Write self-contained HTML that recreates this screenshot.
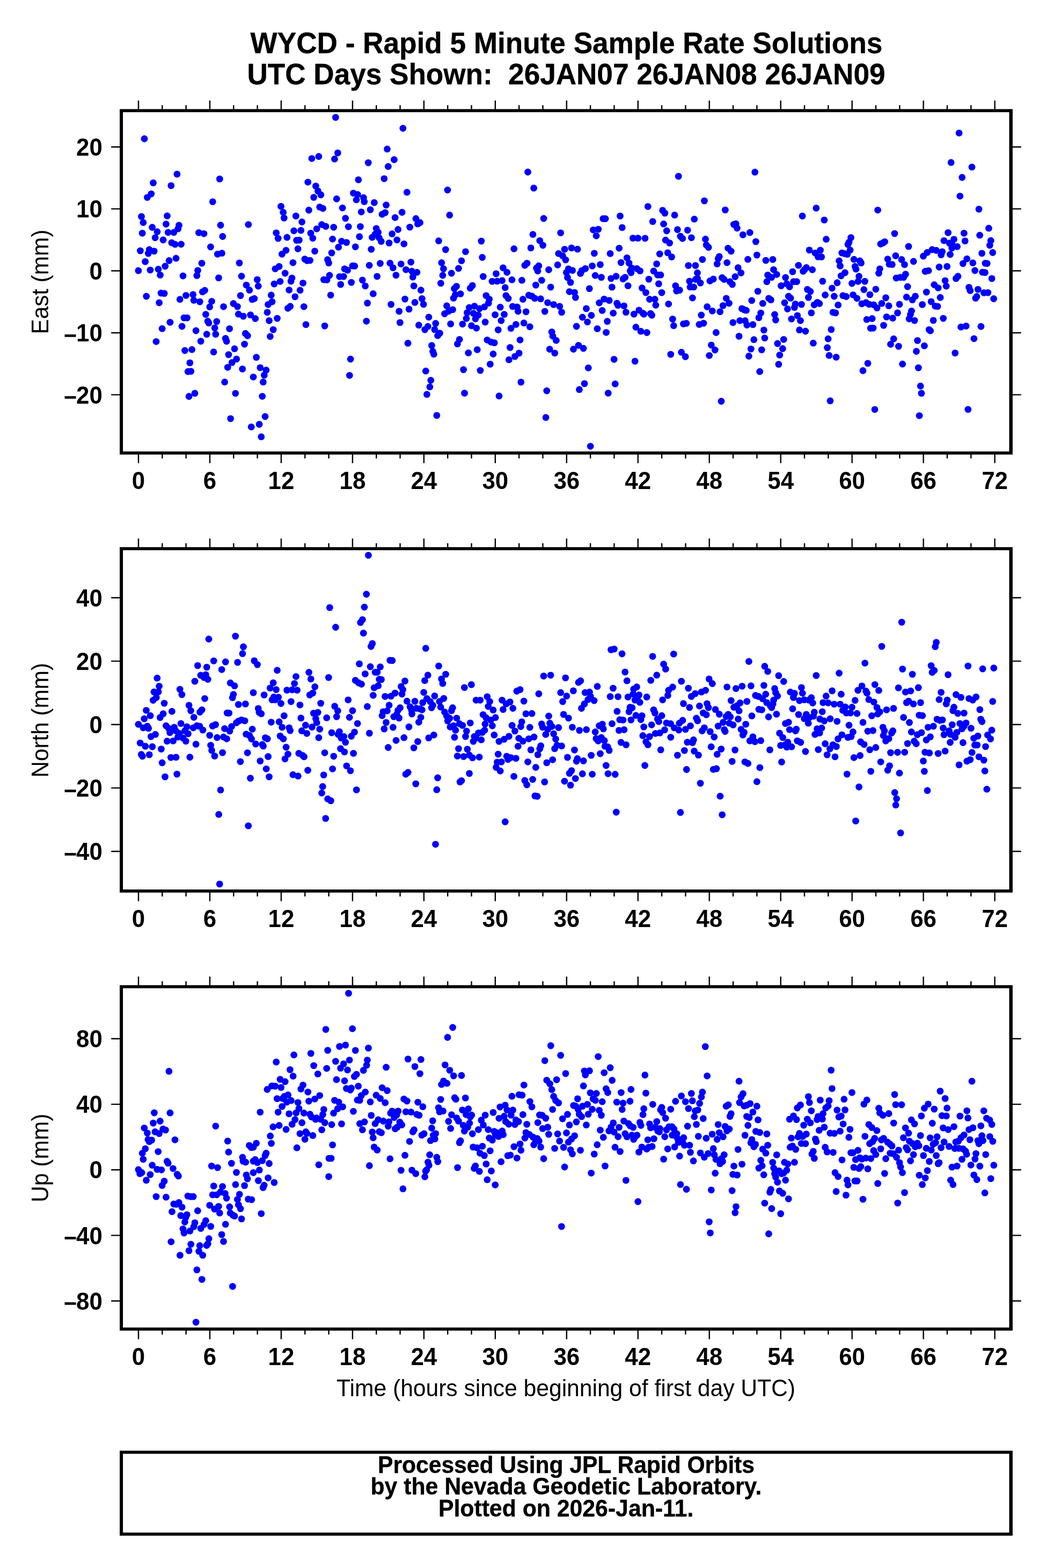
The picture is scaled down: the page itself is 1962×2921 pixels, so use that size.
<!DOCTYPE html>
<html lang="en"><head><meta charset="utf-8"><title>WYCD - Rapid 5 Minute Sample Rate Solutions</title>
<style>html,body{margin:0;padding:0;background:#fff}body{width:1962px;height:2921px;overflow:hidden}svg{display:block}text{font-family:"Liberation Sans",Arial,Helvetica,sans-serif;fill:#000;white-space:pre}.b{font-weight:bold}.s{stroke:#000;stroke-width:0.4px;stroke-linejoin:round}.f{fill:none;stroke:#000;stroke-width:5.90;stroke-linejoin:miter}.t{stroke:#000;stroke-width:2.40;fill:none}.fr{fill:#000;fill-rule:evenodd}.d{fill:#0000ff}</style></head><body>
<svg width="1962" height="2921" viewBox="0 0 1962 2921">
<rect width="1962" height="2921" fill="#fff"/>
<text class="b s" transform="translate(466.61 98.90) scale(0.9661 1)" font-size="55.00">WYCD - Rapid 5 Minute Sample Rate Solutions</text>
<text class="b s" transform="translate(460.50 156.80) scale(0.9652 1)" font-size="55.00">UTC Days Shown:  26JAN07 26JAN08 26JAN09</text>
<g id="panel1">
<g class="d">
<circle cx="1264.2" cy="328.4" r="6.4"/>
<circle cx="1312.4" cy="374.1" r="6.4"/>
<circle cx="1207.2" cy="384.6" r="6.4"/>
<circle cx="1234.6" cy="391.9" r="6.4"/>
<circle cx="1238.8" cy="397.1" r="6.4"/>
<circle cx="1257.0" cy="400.7" r="6.4"/>
<circle cx="1155.4" cy="402.4" r="6.4"/>
<circle cx="1123.8" cy="407.4" r="6.4"/>
<circle cx="1128.0" cy="407.4" r="6.4"/>
<circle cx="1293.7" cy="408.2" r="6.4"/>
<circle cx="1216.2" cy="412.6" r="6.4"/>
<circle cx="1236.5" cy="417.2" r="6.4"/>
<circle cx="1159.2" cy="423.9" r="6.4"/>
<circle cx="1114.8" cy="427.1" r="6.4"/>
<circle cx="1105.4" cy="428.3" r="6.4"/>
<circle cx="1262.3" cy="427.7" r="6.4"/>
<circle cx="1281.1" cy="428.8" r="6.4"/>
<circle cx="1242.2" cy="430.0" r="6.4"/>
<circle cx="1111.0" cy="439.3" r="6.4"/>
<circle cx="1267.7" cy="440.1" r="6.4"/>
<circle cx="1271.7" cy="444.3" r="6.4"/>
<circle cx="1288.3" cy="442.8" r="6.4"/>
<circle cx="1179.3" cy="443.6" r="6.4"/>
<circle cx="1188.7" cy="443.6" r="6.4"/>
<circle cx="1201.9" cy="443.9" r="6.4"/>
<circle cx="1314.4" cy="445.5" r="6.4"/>
<circle cx="1240.1" cy="447.2" r="6.4"/>
<circle cx="1247.6" cy="452.6" r="6.4"/>
<circle cx="1316.1" cy="456.4" r="6.4"/>
<circle cx="1320.1" cy="460.8" r="6.4"/>
<circle cx="1064.9" cy="461.9" r="6.4"/>
<circle cx="1076.0" cy="464.2" r="6.4"/>
<circle cx="1153.6" cy="462.3" r="6.4"/>
<circle cx="1107.3" cy="471.9" r="6.4"/>
<circle cx="1137.0" cy="472.4" r="6.4"/>
<circle cx="1229.2" cy="473.0" r="6.4"/>
<circle cx="1244.1" cy="470.9" r="6.4"/>
<circle cx="1251.4" cy="478.6" r="6.4"/>
<circle cx="1168.2" cy="480.3" r="6.4"/>
<circle cx="1308.8" cy="483.4" r="6.4"/>
<circle cx="1157.1" cy="489.1" r="6.4"/>
<circle cx="1172.0" cy="490.1" r="6.4"/>
<circle cx="1223.5" cy="491.6" r="6.4"/>
<circle cx="1118.4" cy="492.9" r="6.4"/>
<circle cx="1103.5" cy="495.4" r="6.4"/>
<circle cx="1282.6" cy="494.6" r="6.4"/>
<circle cx="1295.8" cy="494.6" r="6.4"/>
<circle cx="1059.1" cy="500.8" r="6.4"/>
<circle cx="1066.6" cy="503.8" r="6.4"/>
<circle cx="1090.7" cy="500.4" r="6.4"/>
<circle cx="1084.0" cy="504.2" r="6.4"/>
<circle cx="1081.5" cy="509.4" r="6.4"/>
<circle cx="1055.3" cy="507.7" r="6.4"/>
<circle cx="1177.0" cy="499.4" r="6.4"/>
<circle cx="1186.6" cy="500.4" r="6.4"/>
<circle cx="1192.5" cy="504.6" r="6.4"/>
<circle cx="1174.3" cy="504.6" r="6.4"/>
<circle cx="1175.8" cy="508.0" r="6.4"/>
<circle cx="1217.9" cy="505.0" r="6.4"/>
<circle cx="1225.4" cy="512.2" r="6.4"/>
<circle cx="1230.9" cy="512.2" r="6.4"/>
<circle cx="1299.4" cy="508.2" r="6.4"/>
<circle cx="1109.1" cy="513.2" r="6.4"/>
<circle cx="1120.4" cy="516.6" r="6.4"/>
<circle cx="1147.9" cy="514.7" r="6.4"/>
<circle cx="1138.5" cy="518.8" r="6.4"/>
<circle cx="1164.7" cy="516.6" r="6.4"/>
<circle cx="1160.9" cy="519.7" r="6.4"/>
<circle cx="1057.4" cy="517.0" r="6.4"/>
<circle cx="1208.9" cy="520.1" r="6.4"/>
<circle cx="1299.6" cy="518.6" r="6.4"/>
<circle cx="1296.0" cy="520.5" r="6.4"/>
<circle cx="1284.7" cy="523.9" r="6.4"/>
<circle cx="1322.8" cy="523.3" r="6.4"/>
<circle cx="1063.0" cy="526.1" r="6.4"/>
<circle cx="1140.3" cy="534.9" r="6.4"/>
<circle cx="1170.1" cy="532.4" r="6.4"/>
<circle cx="1227.3" cy="528.6" r="6.4"/>
<circle cx="1258.7" cy="532.4" r="6.4"/>
<circle cx="1305.0" cy="527.1" r="6.4"/>
<circle cx="1285.9" cy="534.7" r="6.4"/>
<circle cx="1292.6" cy="534.7" r="6.4"/>
<circle cx="1098.2" cy="537.6" r="6.4"/>
<circle cx="1196.3" cy="536.5" r="6.4"/>
<circle cx="1061.0" cy="543.3" r="6.4"/>
<circle cx="1070.6" cy="544.9" r="6.4"/>
<circle cx="1072.3" cy="554.1" r="6.4"/>
<circle cx="1203.4" cy="545.1" r="6.4"/>
<circle cx="1233.0" cy="545.1" r="6.4"/>
<circle cx="1260.6" cy="542.0" r="6.4"/>
<circle cx="1266.3" cy="540.5" r="6.4"/>
<circle cx="1290.3" cy="555.0" r="6.4"/>
<circle cx="1125.7" cy="557.1" r="6.4"/>
<circle cx="1135.1" cy="559.6" r="6.4"/>
<circle cx="1116.5" cy="564.2" r="6.4"/>
<circle cx="1210.3" cy="557.5" r="6.4"/>
<circle cx="1220.2" cy="557.5" r="6.4"/>
<circle cx="1221.8" cy="568.4" r="6.4"/>
<circle cx="1149.6" cy="565.0" r="6.4"/>
<circle cx="1151.4" cy="568.8" r="6.4"/>
<circle cx="1162.6" cy="569.9" r="6.4"/>
<circle cx="1245.7" cy="566.3" r="6.4"/>
<circle cx="1317.6" cy="571.5" r="6.4"/>
<circle cx="1092.4" cy="574.9" r="6.4"/>
<circle cx="1122.1" cy="578.4" r="6.4"/>
<circle cx="1190.6" cy="577.8" r="6.4"/>
<circle cx="1166.3" cy="581.6" r="6.4"/>
<circle cx="1142.6" cy="583.3" r="6.4"/>
<circle cx="1181.2" cy="585.2" r="6.4"/>
<circle cx="1197.8" cy="583.5" r="6.4"/>
<circle cx="1199.8" cy="585.1" r="6.4"/>
<circle cx="1212.2" cy="584.1" r="6.4"/>
<circle cx="1214.5" cy="587.3" r="6.4"/>
<circle cx="1101.8" cy="587.5" r="6.4"/>
<circle cx="1085.2" cy="591.0" r="6.4"/>
<circle cx="1306.7" cy="587.0" r="6.4"/>
<circle cx="1253.3" cy="594.4" r="6.4"/>
<circle cx="1094.5" cy="599.8" r="6.4"/>
<circle cx="1131.5" cy="598.6" r="6.4"/>
<circle cx="1273.4" cy="603.4" r="6.4"/>
<circle cx="1278.8" cy="602.3" r="6.4"/>
<circle cx="1310.9" cy="602.1" r="6.4"/>
<circle cx="1302.9" cy="604.4" r="6.4"/>
<circle cx="1255.2" cy="606.7" r="6.4"/>
<circle cx="1074.1" cy="608.0" r="6.4"/>
<circle cx="1184.8" cy="609.5" r="6.4"/>
<circle cx="1112.9" cy="612.4" r="6.4"/>
<circle cx="1194.0" cy="617.2" r="6.4"/>
<circle cx="1205.3" cy="619.5" r="6.4"/>
<circle cx="1129.5" cy="619.3" r="6.4"/>
<circle cx="1077.9" cy="643.4" r="6.4"/>
<circle cx="1068.5" cy="650.5" r="6.4"/>
<circle cx="1087.1" cy="649.0" r="6.4"/>
<circle cx="1269.6" cy="656.2" r="6.4"/>
<circle cx="1249.7" cy="660.1" r="6.4"/>
<circle cx="1277.1" cy="664.5" r="6.4"/>
<circle cx="1321.6" cy="662.3" r="6.4"/>
<circle cx="1144.1" cy="669.4" r="6.4"/>
<circle cx="1183.1" cy="672.9" r="6.4"/>
<circle cx="1096.2" cy="685.3" r="6.4"/>
<circle cx="1089.0" cy="714.6" r="6.4"/>
<circle cx="1146.2" cy="715.2" r="6.4"/>
<circle cx="1079.4" cy="725.7" r="6.4"/>
<circle cx="1133.2" cy="732.4" r="6.4"/>
<circle cx="1100.1" cy="831.3" r="6.4"/>
<circle cx="1406.6" cy="320.7" r="6.4"/>
<circle cx="1351.3" cy="391.1" r="6.4"/>
<circle cx="1520.8" cy="387.7" r="6.4"/>
<circle cx="1495.0" cy="402.4" r="6.4"/>
<circle cx="1535.8" cy="409.9" r="6.4"/>
<circle cx="1371.2" cy="417.0" r="6.4"/>
<circle cx="1367.2" cy="418.1" r="6.4"/>
<circle cx="1373.3" cy="425.0" r="6.4"/>
<circle cx="1397.2" cy="433.2" r="6.4"/>
<circle cx="1384.2" cy="437.4" r="6.4"/>
<circle cx="1585.5" cy="442.6" r="6.4"/>
<circle cx="1539.4" cy="445.7" r="6.4"/>
<circle cx="1408.3" cy="450.1" r="6.4"/>
<circle cx="1581.9" cy="451.2" r="6.4"/>
<circle cx="1580.0" cy="455.4" r="6.4"/>
<circle cx="1356.5" cy="462.3" r="6.4"/>
<circle cx="1362.2" cy="468.0" r="6.4"/>
<circle cx="1508.0" cy="465.9" r="6.4"/>
<circle cx="1528.5" cy="466.1" r="6.4"/>
<circle cx="1584.0" cy="465.8" r="6.4"/>
<circle cx="1518.9" cy="471.3" r="6.4"/>
<circle cx="1568.7" cy="471.1" r="6.4"/>
<circle cx="1574.4" cy="472.6" r="6.4"/>
<circle cx="1578.8" cy="473.6" r="6.4"/>
<circle cx="1410.3" cy="475.1" r="6.4"/>
<circle cx="1340.2" cy="477.8" r="6.4"/>
<circle cx="1338.1" cy="481.8" r="6.4"/>
<circle cx="1524.3" cy="478.4" r="6.4"/>
<circle cx="1530.6" cy="478.6" r="6.4"/>
<circle cx="1393.4" cy="483.2" r="6.4"/>
<circle cx="1426.9" cy="485.1" r="6.4"/>
<circle cx="1439.9" cy="483.4" r="6.4"/>
<circle cx="1591.1" cy="483.2" r="6.4"/>
<circle cx="1563.5" cy="486.0" r="6.4"/>
<circle cx="1336.2" cy="491.6" r="6.4"/>
<circle cx="1354.6" cy="489.3" r="6.4"/>
<circle cx="1487.7" cy="494.3" r="6.4"/>
<circle cx="1565.4" cy="495.4" r="6.4"/>
<circle cx="1593.2" cy="496.4" r="6.4"/>
<circle cx="1375.2" cy="498.7" r="6.4"/>
<circle cx="1502.5" cy="498.5" r="6.4"/>
<circle cx="1499.0" cy="502.3" r="6.4"/>
<circle cx="1496.5" cy="505.4" r="6.4"/>
<circle cx="1513.6" cy="502.5" r="6.4"/>
<circle cx="1441.4" cy="502.3" r="6.4"/>
<circle cx="1594.9" cy="501.3" r="6.4"/>
<circle cx="1476.8" cy="506.1" r="6.4"/>
<circle cx="1380.6" cy="508.4" r="6.4"/>
<circle cx="1574.4" cy="508.0" r="6.4"/>
<circle cx="1430.5" cy="512.4" r="6.4"/>
<circle cx="1447.2" cy="511.3" r="6.4"/>
<circle cx="1567.1" cy="513.8" r="6.4"/>
<circle cx="1369.7" cy="515.5" r="6.4"/>
<circle cx="1437.6" cy="516.6" r="6.4"/>
<circle cx="1463.6" cy="517.0" r="6.4"/>
<circle cx="1345.4" cy="517.2" r="6.4"/>
<circle cx="1349.2" cy="520.5" r="6.4"/>
<circle cx="1329.1" cy="519.9" r="6.4"/>
<circle cx="1532.7" cy="523.9" r="6.4"/>
<circle cx="1428.8" cy="524.7" r="6.4"/>
<circle cx="1360.1" cy="524.7" r="6.4"/>
<circle cx="1478.4" cy="524.7" r="6.4"/>
<circle cx="1484.5" cy="524.7" r="6.4"/>
<circle cx="1364.5" cy="529.9" r="6.4"/>
<circle cx="1455.4" cy="532.4" r="6.4"/>
<circle cx="1465.9" cy="528.6" r="6.4"/>
<circle cx="1471.1" cy="534.3" r="6.4"/>
<circle cx="1559.9" cy="526.7" r="6.4"/>
<circle cx="1587.4" cy="528.0" r="6.4"/>
<circle cx="1550.3" cy="536.8" r="6.4"/>
<circle cx="1412.0" cy="542.6" r="6.4"/>
<circle cx="1504.4" cy="539.1" r="6.4"/>
<circle cx="1509.9" cy="543.0" r="6.4"/>
<circle cx="1506.3" cy="554.1" r="6.4"/>
<circle cx="1537.5" cy="549.5" r="6.4"/>
<circle cx="1554.3" cy="552.0" r="6.4"/>
<circle cx="1570.6" cy="550.6" r="6.4"/>
<circle cx="1576.7" cy="552.5" r="6.4"/>
<circle cx="1589.5" cy="549.3" r="6.4"/>
<circle cx="1469.2" cy="552.0" r="6.4"/>
<circle cx="1473.0" cy="555.4" r="6.4"/>
<circle cx="1353.2" cy="555.8" r="6.4"/>
<circle cx="1432.4" cy="555.8" r="6.4"/>
<circle cx="1436.3" cy="558.6" r="6.4"/>
<circle cx="1400.7" cy="559.8" r="6.4"/>
<circle cx="1358.4" cy="565.0" r="6.4"/>
<circle cx="1421.2" cy="565.2" r="6.4"/>
<circle cx="1461.9" cy="564.0" r="6.4"/>
<circle cx="1482.0" cy="566.3" r="6.4"/>
<circle cx="1493.3" cy="567.1" r="6.4"/>
<circle cx="1522.8" cy="563.4" r="6.4"/>
<circle cx="1526.8" cy="565.5" r="6.4"/>
<circle cx="1517.0" cy="567.8" r="6.4"/>
<circle cx="1561.6" cy="568.2" r="6.4"/>
<circle cx="1347.1" cy="569.4" r="6.4"/>
<circle cx="1480.3" cy="572.6" r="6.4"/>
<circle cx="1467.3" cy="575.5" r="6.4"/>
<circle cx="1327.2" cy="579.3" r="6.4"/>
<circle cx="1341.6" cy="580.7" r="6.4"/>
<circle cx="1382.3" cy="574.9" r="6.4"/>
<circle cx="1386.5" cy="577.0" r="6.4"/>
<circle cx="1390.4" cy="578.2" r="6.4"/>
<circle cx="1417.5" cy="583.1" r="6.4"/>
<circle cx="1413.9" cy="591.9" r="6.4"/>
<circle cx="1443.4" cy="586.0" r="6.4"/>
<circle cx="1445.3" cy="596.0" r="6.4"/>
<circle cx="1511.7" cy="582.9" r="6.4"/>
<circle cx="1552.0" cy="581.8" r="6.4"/>
<circle cx="1556.8" cy="582.9" r="6.4"/>
<circle cx="1485.8" cy="587.9" r="6.4"/>
<circle cx="1474.7" cy="594.2" r="6.4"/>
<circle cx="1491.4" cy="597.3" r="6.4"/>
<circle cx="1378.5" cy="597.3" r="6.4"/>
<circle cx="1388.4" cy="597.5" r="6.4"/>
<circle cx="1365.7" cy="600.9" r="6.4"/>
<circle cx="1391.7" cy="605.5" r="6.4"/>
<circle cx="1402.8" cy="604.6" r="6.4"/>
<circle cx="1423.3" cy="614.9" r="6.4"/>
<circle cx="1489.5" cy="614.7" r="6.4"/>
<circle cx="1500.8" cy="617.0" r="6.4"/>
<circle cx="1548.8" cy="613.9" r="6.4"/>
<circle cx="1334.3" cy="619.5" r="6.4"/>
<circle cx="1377.0" cy="626.4" r="6.4"/>
<circle cx="1424.8" cy="629.6" r="6.4"/>
<circle cx="1404.7" cy="632.7" r="6.4"/>
<circle cx="1460.2" cy="632.3" r="6.4"/>
<circle cx="1543.0" cy="631.2" r="6.4"/>
<circle cx="1448.7" cy="640.0" r="6.4"/>
<circle cx="1515.3" cy="639.2" r="6.4"/>
<circle cx="1325.3" cy="642.8" r="6.4"/>
<circle cx="1332.2" cy="652.0" r="6.4"/>
<circle cx="1399.2" cy="650.1" r="6.4"/>
<circle cx="1419.2" cy="651.6" r="6.4"/>
<circle cx="1458.3" cy="649.5" r="6.4"/>
<circle cx="1541.5" cy="647.6" r="6.4"/>
<circle cx="1395.3" cy="663.5" r="6.4"/>
<circle cx="1452.7" cy="661.4" r="6.4"/>
<circle cx="1544.9" cy="662.2" r="6.4"/>
<circle cx="1558.0" cy="665.4" r="6.4"/>
<circle cx="1450.8" cy="678.6" r="6.4"/>
<circle cx="1415.6" cy="692.2" r="6.4"/>
<circle cx="1343.9" cy="747.5" r="6.4"/>
<circle cx="1546.9" cy="746.7" r="6.4"/>
<circle cx="1787.0" cy="247.8" r="6.4"/>
<circle cx="1772.1" cy="302.7" r="6.4"/>
<circle cx="1810.9" cy="311.2" r="6.4"/>
<circle cx="1792.6" cy="330.5" r="6.4"/>
<circle cx="1788.7" cy="365.3" r="6.4"/>
<circle cx="1635.5" cy="391.3" r="6.4"/>
<circle cx="1823.9" cy="389.6" r="6.4"/>
<circle cx="1842.3" cy="425.2" r="6.4"/>
<circle cx="1766.5" cy="433.4" r="6.4"/>
<circle cx="1666.9" cy="435.1" r="6.4"/>
<circle cx="1796.2" cy="434.4" r="6.4"/>
<circle cx="1825.5" cy="438.2" r="6.4"/>
<circle cx="1777.4" cy="445.9" r="6.4"/>
<circle cx="1758.9" cy="448.3" r="6.4"/>
<circle cx="1798.1" cy="448.9" r="6.4"/>
<circle cx="1846.1" cy="448.2" r="6.4"/>
<circle cx="1648.5" cy="450.3" r="6.4"/>
<circle cx="1645.1" cy="452.6" r="6.4"/>
<circle cx="1640.8" cy="454.5" r="6.4"/>
<circle cx="1769.0" cy="452.9" r="6.4"/>
<circle cx="1774.4" cy="456.4" r="6.4"/>
<circle cx="1783.4" cy="459.4" r="6.4"/>
<circle cx="1773.6" cy="462.1" r="6.4"/>
<circle cx="1844.2" cy="457.0" r="6.4"/>
<circle cx="1692.9" cy="459.1" r="6.4"/>
<circle cx="1736.9" cy="465.0" r="6.4"/>
<circle cx="1744.5" cy="466.5" r="6.4"/>
<circle cx="1727.7" cy="470.3" r="6.4"/>
<circle cx="1755.6" cy="468.8" r="6.4"/>
<circle cx="1753.5" cy="474.7" r="6.4"/>
<circle cx="1770.4" cy="474.0" r="6.4"/>
<circle cx="1829.5" cy="471.9" r="6.4"/>
<circle cx="1849.6" cy="470.5" r="6.4"/>
<circle cx="1720.4" cy="477.2" r="6.4"/>
<circle cx="1668.8" cy="476.5" r="6.4"/>
<circle cx="1801.6" cy="482.2" r="6.4"/>
<circle cx="1654.0" cy="482.6" r="6.4"/>
<circle cx="1679.9" cy="483.5" r="6.4"/>
<circle cx="1602.0" cy="486.0" r="6.4"/>
<circle cx="1604.5" cy="489.9" r="6.4"/>
<circle cx="1702.1" cy="487.0" r="6.4"/>
<circle cx="1812.7" cy="489.7" r="6.4"/>
<circle cx="1794.3" cy="491.0" r="6.4"/>
<circle cx="1835.8" cy="490.4" r="6.4"/>
<circle cx="1839.2" cy="490.8" r="6.4"/>
<circle cx="1656.9" cy="492.2" r="6.4"/>
<circle cx="1662.3" cy="492.7" r="6.4"/>
<circle cx="1685.4" cy="492.9" r="6.4"/>
<circle cx="1764.6" cy="496.4" r="6.4"/>
<circle cx="1749.9" cy="497.5" r="6.4"/>
<circle cx="1639.3" cy="500.8" r="6.4"/>
<circle cx="1723.9" cy="505.5" r="6.4"/>
<circle cx="1730.0" cy="504.2" r="6.4"/>
<circle cx="1816.5" cy="504.0" r="6.4"/>
<circle cx="1830.6" cy="507.1" r="6.4"/>
<circle cx="1835.4" cy="507.7" r="6.4"/>
<circle cx="1637.4" cy="509.0" r="6.4"/>
<circle cx="1687.3" cy="510.9" r="6.4"/>
<circle cx="1600.5" cy="514.7" r="6.4"/>
<circle cx="1784.9" cy="514.7" r="6.4"/>
<circle cx="1781.3" cy="518.9" r="6.4"/>
<circle cx="1669.9" cy="518.0" r="6.4"/>
<circle cx="1677.6" cy="516.6" r="6.4"/>
<circle cx="1683.7" cy="516.6" r="6.4"/>
<circle cx="1848.0" cy="518.9" r="6.4"/>
<circle cx="1761.0" cy="522.8" r="6.4"/>
<circle cx="1611.4" cy="524.1" r="6.4"/>
<circle cx="1598.8" cy="524.3" r="6.4"/>
<circle cx="1691.0" cy="534.0" r="6.4"/>
<circle cx="1740.7" cy="530.5" r="6.4"/>
<circle cx="1748.0" cy="536.3" r="6.4"/>
<circle cx="1763.1" cy="533.0" r="6.4"/>
<circle cx="1609.7" cy="539.5" r="6.4"/>
<circle cx="1631.8" cy="538.8" r="6.4"/>
<circle cx="1805.4" cy="535.3" r="6.4"/>
<circle cx="1807.7" cy="541.4" r="6.4"/>
<circle cx="1822.2" cy="539.1" r="6.4"/>
<circle cx="1833.3" cy="545.4" r="6.4"/>
<circle cx="1840.8" cy="545.1" r="6.4"/>
<circle cx="1726.2" cy="544.1" r="6.4"/>
<circle cx="1620.8" cy="548.9" r="6.4"/>
<circle cx="1596.8" cy="555.8" r="6.4"/>
<circle cx="1819.9" cy="552.5" r="6.4"/>
<circle cx="1817.8" cy="555.4" r="6.4"/>
<circle cx="1851.5" cy="556.5" r="6.4"/>
<circle cx="1650.4" cy="554.6" r="6.4"/>
<circle cx="1752.0" cy="554.2" r="6.4"/>
<circle cx="1689.1" cy="553.5" r="6.4"/>
<circle cx="1705.5" cy="551.8" r="6.4"/>
<circle cx="1700.0" cy="558.6" r="6.4"/>
<circle cx="1735.0" cy="561.9" r="6.4"/>
<circle cx="1605.8" cy="565.9" r="6.4"/>
<circle cx="1613.5" cy="563.6" r="6.4"/>
<circle cx="1619.2" cy="566.9" r="6.4"/>
<circle cx="1627.8" cy="567.8" r="6.4"/>
<circle cx="1634.0" cy="573.6" r="6.4"/>
<circle cx="1642.9" cy="565.3" r="6.4"/>
<circle cx="1656.0" cy="569.7" r="6.4"/>
<circle cx="1675.9" cy="566.9" r="6.4"/>
<circle cx="1718.5" cy="567.4" r="6.4"/>
<circle cx="1742.6" cy="570.3" r="6.4"/>
<circle cx="1747.0" cy="570.9" r="6.4"/>
<circle cx="1698.4" cy="579.3" r="6.4"/>
<circle cx="1696.3" cy="586.0" r="6.4"/>
<circle cx="1672.4" cy="582.9" r="6.4"/>
<circle cx="1694.0" cy="594.0" r="6.4"/>
<circle cx="1704.0" cy="597.1" r="6.4"/>
<circle cx="1651.9" cy="590.4" r="6.4"/>
<circle cx="1663.4" cy="592.7" r="6.4"/>
<circle cx="1615.0" cy="595.2" r="6.4"/>
<circle cx="1625.0" cy="593.5" r="6.4"/>
<circle cx="1739.0" cy="596.9" r="6.4"/>
<circle cx="1757.6" cy="593.1" r="6.4"/>
<circle cx="1646.4" cy="606.1" r="6.4"/>
<circle cx="1622.1" cy="611.5" r="6.4"/>
<circle cx="1626.9" cy="611.1" r="6.4"/>
<circle cx="1790.5" cy="609.2" r="6.4"/>
<circle cx="1800.0" cy="607.4" r="6.4"/>
<circle cx="1827.8" cy="608.2" r="6.4"/>
<circle cx="1731.1" cy="614.1" r="6.4"/>
<circle cx="1733.6" cy="616.2" r="6.4"/>
<circle cx="1665.1" cy="631.2" r="6.4"/>
<circle cx="1814.8" cy="630.8" r="6.4"/>
<circle cx="1709.5" cy="634.4" r="6.4"/>
<circle cx="1659.4" cy="641.3" r="6.4"/>
<circle cx="1674.3" cy="645.1" r="6.4"/>
<circle cx="1722.3" cy="644.2" r="6.4"/>
<circle cx="1707.4" cy="654.5" r="6.4"/>
<circle cx="1779.6" cy="657.6" r="6.4"/>
<circle cx="1616.9" cy="676.9" r="6.4"/>
<circle cx="1681.6" cy="678.2" r="6.4"/>
<circle cx="1711.2" cy="685.1" r="6.4"/>
<circle cx="1607.9" cy="690.5" r="6.4"/>
<circle cx="1715.1" cy="719.2" r="6.4"/>
<circle cx="1716.8" cy="732.6" r="6.4"/>
<circle cx="1629.9" cy="762.8" r="6.4"/>
<circle cx="1803.7" cy="762.6" r="6.4"/>
<circle cx="1713.0" cy="774.3" r="6.4"/>
<circle cx="269.0" cy="258.5" r="6.4"/>
<circle cx="329.9" cy="324.4" r="6.4"/>
<circle cx="409.3" cy="333.4" r="6.4"/>
<circle cx="285.5" cy="340.6" r="6.4"/>
<circle cx="318.8" cy="345.8" r="6.4"/>
<circle cx="281.8" cy="361.1" r="6.4"/>
<circle cx="274.4" cy="367.8" r="6.4"/>
<circle cx="396.3" cy="375.8" r="6.4"/>
<circle cx="263.5" cy="403.4" r="6.4"/>
<circle cx="311.5" cy="402.2" r="6.4"/>
<circle cx="266.9" cy="414.5" r="6.4"/>
<circle cx="309.4" cy="417.5" r="6.4"/>
<circle cx="333.5" cy="419.6" r="6.4"/>
<circle cx="411.0" cy="419.5" r="6.4"/>
<circle cx="462.8" cy="418.3" r="6.4"/>
<circle cx="283.6" cy="423.5" r="6.4"/>
<circle cx="331.8" cy="426.1" r="6.4"/>
<circle cx="292.9" cy="431.7" r="6.4"/>
<circle cx="265.2" cy="434.4" r="6.4"/>
<circle cx="313.2" cy="433.0" r="6.4"/>
<circle cx="323.8" cy="433.0" r="6.4"/>
<circle cx="370.4" cy="433.4" r="6.4"/>
<circle cx="380.0" cy="435.3" r="6.4"/>
<circle cx="514.7" cy="433.8" r="6.4"/>
<circle cx="414.8" cy="440.5" r="6.4"/>
<circle cx="289.1" cy="442.8" r="6.4"/>
<circle cx="304.0" cy="447.0" r="6.4"/>
<circle cx="319.9" cy="452.2" r="6.4"/>
<circle cx="326.2" cy="455.2" r="6.4"/>
<circle cx="337.5" cy="455.0" r="6.4"/>
<circle cx="392.4" cy="460.0" r="6.4"/>
<circle cx="261.4" cy="467.1" r="6.4"/>
<circle cx="278.2" cy="465.0" r="6.4"/>
<circle cx="287.2" cy="467.9" r="6.4"/>
<circle cx="276.3" cy="472.1" r="6.4"/>
<circle cx="405.3" cy="473.4" r="6.4"/>
<circle cx="413.5" cy="471.7" r="6.4"/>
<circle cx="328.0" cy="481.2" r="6.4"/>
<circle cx="315.1" cy="485.5" r="6.4"/>
<circle cx="270.6" cy="487.4" r="6.4"/>
<circle cx="376.0" cy="490.4" r="6.4"/>
<circle cx="446.0" cy="489.9" r="6.4"/>
<circle cx="307.7" cy="496.0" r="6.4"/>
<circle cx="512.8" cy="500.8" r="6.4"/>
<circle cx="257.9" cy="504.2" r="6.4"/>
<circle cx="279.9" cy="503.1" r="6.4"/>
<circle cx="294.9" cy="501.5" r="6.4"/>
<circle cx="368.5" cy="503.8" r="6.4"/>
<circle cx="298.5" cy="512.4" r="6.4"/>
<circle cx="341.0" cy="514.0" r="6.4"/>
<circle cx="366.8" cy="513.4" r="6.4"/>
<circle cx="407.4" cy="517.6" r="6.4"/>
<circle cx="450.0" cy="514.5" r="6.4"/>
<circle cx="479.3" cy="520.9" r="6.4"/>
<circle cx="459.0" cy="531.1" r="6.4"/>
<circle cx="481.2" cy="533.0" r="6.4"/>
<circle cx="510.9" cy="529.0" r="6.4"/>
<circle cx="464.8" cy="540.5" r="6.4"/>
<circle cx="381.5" cy="541.0" r="6.4"/>
<circle cx="377.3" cy="543.7" r="6.4"/>
<circle cx="300.0" cy="546.0" r="6.4"/>
<circle cx="306.1" cy="546.6" r="6.4"/>
<circle cx="272.7" cy="552.0" r="6.4"/>
<circle cx="346.5" cy="550.4" r="6.4"/>
<circle cx="359.7" cy="548.7" r="6.4"/>
<circle cx="448.1" cy="550.6" r="6.4"/>
<circle cx="505.3" cy="549.7" r="6.4"/>
<circle cx="335.2" cy="557.7" r="6.4"/>
<circle cx="361.1" cy="559.4" r="6.4"/>
<circle cx="372.3" cy="562.1" r="6.4"/>
<circle cx="394.5" cy="561.3" r="6.4"/>
<circle cx="473.9" cy="556.2" r="6.4"/>
<circle cx="469.9" cy="557.9" r="6.4"/>
<circle cx="296.6" cy="564.0" r="6.4"/>
<circle cx="507.0" cy="562.1" r="6.4"/>
<circle cx="499.6" cy="567.3" r="6.4"/>
<circle cx="434.9" cy="565.5" r="6.4"/>
<circle cx="442.4" cy="571.1" r="6.4"/>
<circle cx="416.5" cy="571.3" r="6.4"/>
<circle cx="390.7" cy="571.7" r="6.4"/>
<circle cx="498.0" cy="581.8" r="6.4"/>
<circle cx="383.4" cy="585.6" r="6.4"/>
<circle cx="444.3" cy="585.2" r="6.4"/>
<circle cx="453.3" cy="589.1" r="6.4"/>
<circle cx="466.7" cy="586.6" r="6.4"/>
<circle cx="475.7" cy="593.5" r="6.4"/>
<circle cx="342.9" cy="592.1" r="6.4"/>
<circle cx="348.6" cy="592.1" r="6.4"/>
<circle cx="501.5" cy="597.3" r="6.4"/>
<circle cx="387.1" cy="598.4" r="6.4"/>
<circle cx="389.0" cy="601.7" r="6.4"/>
<circle cx="403.7" cy="599.0" r="6.4"/>
<circle cx="316.9" cy="600.4" r="6.4"/>
<circle cx="339.1" cy="608.0" r="6.4"/>
<circle cx="400.1" cy="610.9" r="6.4"/>
<circle cx="302.1" cy="612.2" r="6.4"/>
<circle cx="427.6" cy="612.4" r="6.4"/>
<circle cx="509.1" cy="614.1" r="6.4"/>
<circle cx="365.1" cy="616.0" r="6.4"/>
<circle cx="457.3" cy="621.2" r="6.4"/>
<circle cx="461.3" cy="625.4" r="6.4"/>
<circle cx="385.2" cy="622.6" r="6.4"/>
<circle cx="401.8" cy="622.6" r="6.4"/>
<circle cx="503.4" cy="626.8" r="6.4"/>
<circle cx="420.2" cy="630.4" r="6.4"/>
<circle cx="422.1" cy="635.8" r="6.4"/>
<circle cx="374.1" cy="635.6" r="6.4"/>
<circle cx="291.0" cy="636.3" r="6.4"/>
<circle cx="455.6" cy="641.1" r="6.4"/>
<circle cx="437.0" cy="649.7" r="6.4"/>
<circle cx="357.6" cy="651.2" r="6.4"/>
<circle cx="344.4" cy="653.0" r="6.4"/>
<circle cx="398.0" cy="655.7" r="6.4"/>
<circle cx="425.9" cy="660.6" r="6.4"/>
<circle cx="477.6" cy="665.6" r="6.4"/>
<circle cx="440.7" cy="668.9" r="6.4"/>
<circle cx="432.2" cy="675.4" r="6.4"/>
<circle cx="353.8" cy="675.9" r="6.4"/>
<circle cx="424.2" cy="684.3" r="6.4"/>
<circle cx="484.8" cy="684.9" r="6.4"/>
<circle cx="451.7" cy="687.4" r="6.4"/>
<circle cx="495.9" cy="689.5" r="6.4"/>
<circle cx="350.2" cy="692.2" r="6.4"/>
<circle cx="355.7" cy="691.6" r="6.4"/>
<circle cx="492.3" cy="698.9" r="6.4"/>
<circle cx="472.0" cy="702.3" r="6.4"/>
<circle cx="418.6" cy="711.7" r="6.4"/>
<circle cx="490.4" cy="711.7" r="6.4"/>
<circle cx="438.7" cy="732.8" r="6.4"/>
<circle cx="363.0" cy="732.6" r="6.4"/>
<circle cx="352.1" cy="738.5" r="6.4"/>
<circle cx="488.7" cy="738.3" r="6.4"/>
<circle cx="494.0" cy="776.0" r="6.4"/>
<circle cx="429.6" cy="779.8" r="6.4"/>
<circle cx="483.1" cy="790.5" r="6.4"/>
<circle cx="468.2" cy="795.3" r="6.4"/>
<circle cx="486.8" cy="813.7" r="6.4"/>
<circle cx="625.3" cy="218.6" r="6.4"/>
<circle cx="750.8" cy="239.0" r="6.4"/>
<circle cx="721.4" cy="277.7" r="6.4"/>
<circle cx="629.3" cy="284.9" r="6.4"/>
<circle cx="593.9" cy="291.5" r="6.4"/>
<circle cx="580.9" cy="295.3" r="6.4"/>
<circle cx="623.4" cy="296.2" r="6.4"/>
<circle cx="734.4" cy="297.4" r="6.4"/>
<circle cx="686.2" cy="303.1" r="6.4"/>
<circle cx="723.3" cy="310.2" r="6.4"/>
<circle cx="715.8" cy="332.8" r="6.4"/>
<circle cx="667.8" cy="334.9" r="6.4"/>
<circle cx="573.7" cy="339.3" r="6.4"/>
<circle cx="588.4" cy="346.6" r="6.4"/>
<circle cx="592.4" cy="355.9" r="6.4"/>
<circle cx="597.8" cy="363.0" r="6.4"/>
<circle cx="584.6" cy="367.6" r="6.4"/>
<circle cx="758.3" cy="358.2" r="6.4"/>
<circle cx="658.4" cy="359.8" r="6.4"/>
<circle cx="666.3" cy="362.4" r="6.4"/>
<circle cx="677.4" cy="368.2" r="6.4"/>
<circle cx="664.0" cy="372.2" r="6.4"/>
<circle cx="678.7" cy="375.6" r="6.4"/>
<circle cx="627.2" cy="370.5" r="6.4"/>
<circle cx="697.3" cy="377.4" r="6.4"/>
<circle cx="719.5" cy="382.0" r="6.4"/>
<circle cx="523.5" cy="384.4" r="6.4"/>
<circle cx="595.7" cy="385.6" r="6.4"/>
<circle cx="601.6" cy="388.3" r="6.4"/>
<circle cx="638.1" cy="387.3" r="6.4"/>
<circle cx="575.4" cy="391.5" r="6.4"/>
<circle cx="690.0" cy="390.6" r="6.4"/>
<circle cx="673.2" cy="394.8" r="6.4"/>
<circle cx="527.7" cy="395.5" r="6.4"/>
<circle cx="717.7" cy="396.1" r="6.4"/>
<circle cx="712.0" cy="399.2" r="6.4"/>
<circle cx="749.1" cy="395.5" r="6.4"/>
<circle cx="551.3" cy="402.4" r="6.4"/>
<circle cx="529.3" cy="406.1" r="6.4"/>
<circle cx="643.7" cy="406.6" r="6.4"/>
<circle cx="736.1" cy="405.3" r="6.4"/>
<circle cx="774.9" cy="407.2" r="6.4"/>
<circle cx="782.6" cy="414.7" r="6.4"/>
<circle cx="778.4" cy="417.2" r="6.4"/>
<circle cx="562.6" cy="413.5" r="6.4"/>
<circle cx="599.5" cy="418.3" r="6.4"/>
<circle cx="607.0" cy="421.7" r="6.4"/>
<circle cx="621.7" cy="423.3" r="6.4"/>
<circle cx="649.2" cy="422.3" r="6.4"/>
<circle cx="671.4" cy="422.1" r="6.4"/>
<circle cx="763.6" cy="423.1" r="6.4"/>
<circle cx="590.1" cy="426.3" r="6.4"/>
<circle cx="701.1" cy="425.6" r="6.4"/>
<circle cx="741.6" cy="427.5" r="6.4"/>
<circle cx="547.6" cy="430.0" r="6.4"/>
<circle cx="560.7" cy="429.2" r="6.4"/>
<circle cx="704.7" cy="432.8" r="6.4"/>
<circle cx="699.0" cy="436.3" r="6.4"/>
<circle cx="579.0" cy="434.4" r="6.4"/>
<circle cx="730.5" cy="435.7" r="6.4"/>
<circle cx="534.8" cy="442.2" r="6.4"/>
<circle cx="518.2" cy="444.1" r="6.4"/>
<circle cx="582.8" cy="443.8" r="6.4"/>
<circle cx="669.7" cy="440.9" r="6.4"/>
<circle cx="693.4" cy="442.2" r="6.4"/>
<circle cx="706.4" cy="443.0" r="6.4"/>
<circle cx="710.3" cy="449.7" r="6.4"/>
<circle cx="739.7" cy="447.0" r="6.4"/>
<circle cx="552.6" cy="447.6" r="6.4"/>
<circle cx="557.4" cy="447.4" r="6.4"/>
<circle cx="619.6" cy="445.3" r="6.4"/>
<circle cx="636.4" cy="449.5" r="6.4"/>
<circle cx="645.6" cy="451.6" r="6.4"/>
<circle cx="725.0" cy="452.6" r="6.4"/>
<circle cx="752.7" cy="454.3" r="6.4"/>
<circle cx="630.7" cy="460.4" r="6.4"/>
<circle cx="662.2" cy="459.8" r="6.4"/>
<circle cx="555.1" cy="463.5" r="6.4"/>
<circle cx="691.7" cy="464.4" r="6.4"/>
<circle cx="532.9" cy="466.3" r="6.4"/>
<circle cx="586.5" cy="467.9" r="6.4"/>
<circle cx="525.4" cy="473.4" r="6.4"/>
<circle cx="618.0" cy="471.1" r="6.4"/>
<circle cx="567.9" cy="482.6" r="6.4"/>
<circle cx="572.1" cy="485.5" r="6.4"/>
<circle cx="577.5" cy="485.1" r="6.4"/>
<circle cx="610.4" cy="483.7" r="6.4"/>
<circle cx="612.5" cy="489.9" r="6.4"/>
<circle cx="545.9" cy="489.3" r="6.4"/>
<circle cx="765.6" cy="488.3" r="6.4"/>
<circle cx="708.4" cy="490.6" r="6.4"/>
<circle cx="726.7" cy="490.2" r="6.4"/>
<circle cx="747.2" cy="491.8" r="6.4"/>
<circle cx="688.1" cy="494.3" r="6.4"/>
<circle cx="656.9" cy="495.2" r="6.4"/>
<circle cx="660.7" cy="495.6" r="6.4"/>
<circle cx="520.1" cy="496.4" r="6.4"/>
<circle cx="732.3" cy="498.9" r="6.4"/>
<circle cx="642.0" cy="500.8" r="6.4"/>
<circle cx="647.5" cy="503.4" r="6.4"/>
<circle cx="756.4" cy="502.3" r="6.4"/>
<circle cx="767.5" cy="505.2" r="6.4"/>
<circle cx="776.8" cy="507.3" r="6.4"/>
<circle cx="531.2" cy="509.0" r="6.4"/>
<circle cx="737.8" cy="512.6" r="6.4"/>
<circle cx="614.0" cy="513.0" r="6.4"/>
<circle cx="632.6" cy="515.3" r="6.4"/>
<circle cx="640.2" cy="515.1" r="6.4"/>
<circle cx="702.6" cy="514.9" r="6.4"/>
<circle cx="769.2" cy="516.1" r="6.4"/>
<circle cx="544.0" cy="518.0" r="6.4"/>
<circle cx="603.3" cy="521.0" r="6.4"/>
<circle cx="609.1" cy="521.4" r="6.4"/>
<circle cx="675.3" cy="521.8" r="6.4"/>
<circle cx="522.0" cy="524.3" r="6.4"/>
<circle cx="542.1" cy="523.9" r="6.4"/>
<circle cx="564.5" cy="527.3" r="6.4"/>
<circle cx="634.7" cy="529.9" r="6.4"/>
<circle cx="654.6" cy="526.1" r="6.4"/>
<circle cx="680.6" cy="532.8" r="6.4"/>
<circle cx="771.1" cy="532.6" r="6.4"/>
<circle cx="538.6" cy="540.3" r="6.4"/>
<circle cx="559.1" cy="540.7" r="6.4"/>
<circle cx="784.3" cy="540.5" r="6.4"/>
<circle cx="695.3" cy="547.2" r="6.4"/>
<circle cx="616.1" cy="549.8" r="6.4"/>
<circle cx="549.7" cy="552.9" r="6.4"/>
<circle cx="754.5" cy="557.1" r="6.4"/>
<circle cx="773.0" cy="563.4" r="6.4"/>
<circle cx="684.6" cy="564.6" r="6.4"/>
<circle cx="728.6" cy="567.1" r="6.4"/>
<circle cx="540.8" cy="570.7" r="6.4"/>
<circle cx="536.4" cy="574.3" r="6.4"/>
<circle cx="566.2" cy="571.3" r="6.4"/>
<circle cx="762.1" cy="575.9" r="6.4"/>
<circle cx="743.6" cy="579.9" r="6.4"/>
<circle cx="516.5" cy="593.1" r="6.4"/>
<circle cx="682.7" cy="598.3" r="6.4"/>
<circle cx="745.3" cy="600.9" r="6.4"/>
<circle cx="570.0" cy="604.6" r="6.4"/>
<circle cx="605.0" cy="607.1" r="6.4"/>
<circle cx="780.3" cy="605.7" r="6.4"/>
<circle cx="760.0" cy="639.4" r="6.4"/>
<circle cx="653.1" cy="669.0" r="6.4"/>
<circle cx="651.3" cy="699.3" r="6.4"/>
<circle cx="983.5" cy="320.5" r="6.4"/>
<circle cx="994.6" cy="350.4" r="6.4"/>
<circle cx="833.9" cy="354.0" r="6.4"/>
<circle cx="837.7" cy="400.7" r="6.4"/>
<circle cx="1013.0" cy="407.0" r="6.4"/>
<circle cx="1044.6" cy="433.8" r="6.4"/>
<circle cx="992.9" cy="436.7" r="6.4"/>
<circle cx="817.4" cy="448.7" r="6.4"/>
<circle cx="896.8" cy="449.1" r="6.4"/>
<circle cx="1005.7" cy="448.3" r="6.4"/>
<circle cx="1011.5" cy="457.0" r="6.4"/>
<circle cx="957.7" cy="463.5" r="6.4"/>
<circle cx="989.1" cy="461.9" r="6.4"/>
<circle cx="1052.0" cy="464.4" r="6.4"/>
<circle cx="830.3" cy="465.0" r="6.4"/>
<circle cx="867.4" cy="468.8" r="6.4"/>
<circle cx="1040.7" cy="472.3" r="6.4"/>
<circle cx="1048.4" cy="476.7" r="6.4"/>
<circle cx="1053.9" cy="484.1" r="6.4"/>
<circle cx="898.6" cy="479.5" r="6.4"/>
<circle cx="859.9" cy="485.8" r="6.4"/>
<circle cx="822.8" cy="489.5" r="6.4"/>
<circle cx="982.0" cy="490.4" r="6.4"/>
<circle cx="977.8" cy="494.3" r="6.4"/>
<circle cx="1039.0" cy="493.5" r="6.4"/>
<circle cx="1003.8" cy="495.2" r="6.4"/>
<circle cx="937.4" cy="499.0" r="6.4"/>
<circle cx="999.6" cy="499.4" r="6.4"/>
<circle cx="1001.9" cy="504.8" r="6.4"/>
<circle cx="854.4" cy="500.0" r="6.4"/>
<circle cx="826.4" cy="500.6" r="6.4"/>
<circle cx="1022.4" cy="502.5" r="6.4"/>
<circle cx="944.7" cy="507.3" r="6.4"/>
<circle cx="841.2" cy="509.0" r="6.4"/>
<circle cx="924.4" cy="509.9" r="6.4"/>
<circle cx="824.9" cy="513.0" r="6.4"/>
<circle cx="900.3" cy="515.1" r="6.4"/>
<circle cx="953.9" cy="521.2" r="6.4"/>
<circle cx="972.4" cy="522.2" r="6.4"/>
<circle cx="1009.3" cy="522.2" r="6.4"/>
<circle cx="935.5" cy="522.6" r="6.4"/>
<circle cx="926.3" cy="523.9" r="6.4"/>
<circle cx="916.9" cy="524.1" r="6.4"/>
<circle cx="821.3" cy="527.7" r="6.4"/>
<circle cx="850.5" cy="533.4" r="6.4"/>
<circle cx="846.5" cy="537.6" r="6.4"/>
<circle cx="880.2" cy="531.9" r="6.4"/>
<circle cx="876.2" cy="536.8" r="6.4"/>
<circle cx="941.2" cy="535.7" r="6.4"/>
<circle cx="998.3" cy="531.1" r="6.4"/>
<circle cx="1026.0" cy="534.9" r="6.4"/>
<circle cx="858.0" cy="547.4" r="6.4"/>
<circle cx="848.4" cy="549.1" r="6.4"/>
<circle cx="845.0" cy="555.4" r="6.4"/>
<circle cx="905.8" cy="550.6" r="6.4"/>
<circle cx="911.6" cy="557.3" r="6.4"/>
<circle cx="910.2" cy="564.6" r="6.4"/>
<circle cx="942.8" cy="550.6" r="6.4"/>
<circle cx="947.0" cy="556.0" r="6.4"/>
<circle cx="985.2" cy="550.0" r="6.4"/>
<circle cx="991.0" cy="551.6" r="6.4"/>
<circle cx="996.3" cy="555.6" r="6.4"/>
<circle cx="1007.4" cy="556.7" r="6.4"/>
<circle cx="974.3" cy="557.5" r="6.4"/>
<circle cx="786.3" cy="556.4" r="6.4"/>
<circle cx="789.1" cy="566.9" r="6.4"/>
<circle cx="1020.4" cy="563.8" r="6.4"/>
<circle cx="1031.5" cy="567.4" r="6.4"/>
<circle cx="1042.8" cy="570.7" r="6.4"/>
<circle cx="832.4" cy="569.7" r="6.4"/>
<circle cx="843.5" cy="576.8" r="6.4"/>
<circle cx="836.0" cy="579.7" r="6.4"/>
<circle cx="828.4" cy="584.5" r="6.4"/>
<circle cx="874.3" cy="573.0" r="6.4"/>
<circle cx="884.0" cy="570.3" r="6.4"/>
<circle cx="893.4" cy="574.9" r="6.4"/>
<circle cx="902.6" cy="571.7" r="6.4"/>
<circle cx="932.1" cy="572.2" r="6.4"/>
<circle cx="955.2" cy="570.9" r="6.4"/>
<circle cx="963.6" cy="572.0" r="6.4"/>
<circle cx="965.2" cy="579.9" r="6.4"/>
<circle cx="980.1" cy="580.8" r="6.4"/>
<circle cx="1015.1" cy="580.1" r="6.4"/>
<circle cx="1046.5" cy="581.6" r="6.4"/>
<circle cx="870.4" cy="582.6" r="6.4"/>
<circle cx="882.1" cy="583.7" r="6.4"/>
<circle cx="891.1" cy="587.0" r="6.4"/>
<circle cx="885.9" cy="594.0" r="6.4"/>
<circle cx="868.9" cy="593.3" r="6.4"/>
<circle cx="922.5" cy="586.4" r="6.4"/>
<circle cx="939.5" cy="585.6" r="6.4"/>
<circle cx="798.9" cy="590.8" r="6.4"/>
<circle cx="933.8" cy="597.3" r="6.4"/>
<circle cx="904.1" cy="600.0" r="6.4"/>
<circle cx="811.7" cy="602.5" r="6.4"/>
<circle cx="839.6" cy="603.4" r="6.4"/>
<circle cx="861.8" cy="603.8" r="6.4"/>
<circle cx="961.3" cy="604.4" r="6.4"/>
<circle cx="976.1" cy="601.7" r="6.4"/>
<circle cx="987.2" cy="608.6" r="6.4"/>
<circle cx="797.2" cy="608.2" r="6.4"/>
<circle cx="791.6" cy="614.1" r="6.4"/>
<circle cx="809.8" cy="613.9" r="6.4"/>
<circle cx="878.5" cy="606.7" r="6.4"/>
<circle cx="887.7" cy="611.3" r="6.4"/>
<circle cx="952.0" cy="611.6" r="6.4"/>
<circle cx="928.2" cy="614.5" r="6.4"/>
<circle cx="819.4" cy="620.6" r="6.4"/>
<circle cx="815.5" cy="625.2" r="6.4"/>
<circle cx="1028.1" cy="618.3" r="6.4"/>
<circle cx="1030.0" cy="626.2" r="6.4"/>
<circle cx="1036.3" cy="634.2" r="6.4"/>
<circle cx="856.1" cy="632.3" r="6.4"/>
<circle cx="852.3" cy="640.7" r="6.4"/>
<circle cx="907.8" cy="633.3" r="6.4"/>
<circle cx="915.0" cy="637.3" r="6.4"/>
<circle cx="921.1" cy="638.6" r="6.4"/>
<circle cx="969.0" cy="633.3" r="6.4"/>
<circle cx="804.4" cy="643.6" r="6.4"/>
<circle cx="806.4" cy="654.5" r="6.4"/>
<circle cx="808.3" cy="659.7" r="6.4"/>
<circle cx="950.4" cy="647.4" r="6.4"/>
<circle cx="889.2" cy="651.4" r="6.4"/>
<circle cx="872.7" cy="657.4" r="6.4"/>
<circle cx="918.9" cy="659.5" r="6.4"/>
<circle cx="1024.1" cy="650.5" r="6.4"/>
<circle cx="1033.6" cy="657.8" r="6.4"/>
<circle cx="967.1" cy="657.9" r="6.4"/>
<circle cx="959.4" cy="664.1" r="6.4"/>
<circle cx="948.3" cy="670.2" r="6.4"/>
<circle cx="913.3" cy="678.4" r="6.4"/>
<circle cx="793.3" cy="691.2" r="6.4"/>
<circle cx="863.6" cy="688.6" r="6.4"/>
<circle cx="894.9" cy="690.1" r="6.4"/>
<circle cx="802.7" cy="708.5" r="6.4"/>
<circle cx="800.8" cy="720.7" r="6.4"/>
<circle cx="795.4" cy="734.7" r="6.4"/>
<circle cx="970.7" cy="711.9" r="6.4"/>
<circle cx="1018.7" cy="728.0" r="6.4"/>
<circle cx="865.5" cy="732.4" r="6.4"/>
<circle cx="929.9" cy="737.7" r="6.4"/>
<circle cx="813.8" cy="773.9" r="6.4"/>
<circle cx="1017.0" cy="777.7" r="6.4"/>
</g>
<path class="t" d="M258.00 206.12V187.22M258.00 843.86V862.76M302.32 206.12V195.92M302.32 843.86V854.06M346.64 206.12V195.92M346.64 843.86V854.06M390.96 206.12V187.22M390.96 843.86V862.76M435.28 206.12V195.92M435.28 843.86V854.06M479.60 206.12V195.92M479.60 843.86V854.06M523.92 206.12V187.22M523.92 843.86V862.76M568.24 206.12V195.92M568.24 843.86V854.06M612.56 206.12V195.92M612.56 843.86V854.06M656.88 206.12V187.22M656.88 843.86V862.76M701.20 206.12V195.92M701.20 843.86V854.06M745.52 206.12V195.92M745.52 843.86V854.06M789.84 206.12V187.22M789.84 843.86V862.76M834.16 206.12V195.92M834.16 843.86V854.06M878.48 206.12V195.92M878.48 843.86V854.06M922.80 206.12V187.22M922.80 843.86V862.76M967.12 206.12V195.92M967.12 843.86V854.06M1011.44 206.12V195.92M1011.44 843.86V854.06M1055.76 206.12V187.22M1055.76 843.86V862.76M1100.08 206.12V195.92M1100.08 843.86V854.06M1144.40 206.12V195.92M1144.40 843.86V854.06M1188.72 206.12V187.22M1188.72 843.86V862.76M1233.04 206.12V195.92M1233.04 843.86V854.06M1277.36 206.12V195.92M1277.36 843.86V854.06M1321.68 206.12V187.22M1321.68 843.86V862.76M1366.00 206.12V195.92M1366.00 843.86V854.06M1410.32 206.12V195.92M1410.32 843.86V854.06M1454.64 206.12V187.22M1454.64 843.86V862.76M1498.96 206.12V195.92M1498.96 843.86V854.06M1543.28 206.12V195.92M1543.28 843.86V854.06M1587.60 206.12V187.22M1587.60 843.86V862.76M1631.92 206.12V195.92M1631.92 843.86V854.06M1676.24 206.12V195.92M1676.24 843.86V854.06M1720.56 206.12V187.22M1720.56 843.86V862.76M1764.88 206.12V195.92M1764.88 843.86V854.06M1809.20 206.12V195.92M1809.20 843.86V854.06M1853.52 206.12V187.22M1853.52 843.86V862.76M226.05 273.70H207.15M1883.70 273.70H1902.60M226.05 389.10H207.15M1883.70 389.10H1902.60M226.05 504.55H207.15M1883.70 504.55H1902.60M226.05 620.00H207.15M1883.70 620.00H1902.60M226.05 735.40H207.15M1883.70 735.40H1902.60"/>
<path class="fr" d="M223.03 203.19H1886.80V846.78H223.03ZM229.08 209.05V840.94H1880.40V209.05Z"/>
<text class="b" transform="translate(258.00 910.66) scale(0.952 1)" font-size="46.00" text-anchor="middle">0</text>
<text class="b" transform="translate(390.96 910.66) scale(0.952 1)" font-size="46.00" text-anchor="middle">6</text>
<text class="b" transform="translate(523.92 910.66) scale(0.952 1)" font-size="46.00" text-anchor="middle">12</text>
<text class="b" transform="translate(656.88 910.66) scale(0.952 1)" font-size="46.00" text-anchor="middle">18</text>
<text class="b" transform="translate(789.84 910.66) scale(0.952 1)" font-size="46.00" text-anchor="middle">24</text>
<text class="b" transform="translate(922.80 910.66) scale(0.952 1)" font-size="46.00" text-anchor="middle">30</text>
<text class="b" transform="translate(1055.76 910.66) scale(0.952 1)" font-size="46.00" text-anchor="middle">36</text>
<text class="b" transform="translate(1188.72 910.66) scale(0.952 1)" font-size="46.00" text-anchor="middle">42</text>
<text class="b" transform="translate(1321.68 910.66) scale(0.952 1)" font-size="46.00" text-anchor="middle">48</text>
<text class="b" transform="translate(1454.64 910.66) scale(0.952 1)" font-size="46.00" text-anchor="middle">54</text>
<text class="b" transform="translate(1587.60 910.66) scale(0.952 1)" font-size="46.00" text-anchor="middle">60</text>
<text class="b" transform="translate(1720.56 910.66) scale(0.952 1)" font-size="46.00" text-anchor="middle">66</text>
<text class="b" transform="translate(1853.52 910.66) scale(0.952 1)" font-size="46.00" text-anchor="middle">72</text>
<text class="b" transform="translate(190.80 289.80) scale(0.952 1)" font-size="46.00" text-anchor="end">20</text>
<text class="b" transform="translate(190.80 405.20) scale(0.952 1)" font-size="46.00" text-anchor="end">10</text>
<text class="b" transform="translate(190.80 520.65) scale(0.952 1)" font-size="46.00" text-anchor="end">0</text>
<text class="b" transform="translate(190.80 636.10) scale(0.952 1)" font-size="46.00" text-anchor="end"><tspan dy="3.6" font-size="44" style="letter-spacing:-1.2px">−</tspan><tspan dy="-3.6">10</tspan></text>
<text class="b" transform="translate(190.80 751.50) scale(0.952 1)" font-size="46.00" text-anchor="end"><tspan dy="3.6" font-size="44" style="letter-spacing:-1.2px">−</tspan><tspan dy="-3.6">20</tspan></text>
<text transform="translate(89.95 622.42) rotate(-90) scale(0.9690 1)" font-size="43.60">East (mm)</text>
</g>
<g id="panel2">
<g class="d">
<circle cx="1138.5" cy="1210.4" r="6.4"/>
<circle cx="1144.3" cy="1209.1" r="6.4"/>
<circle cx="1159.0" cy="1218.0" r="6.4"/>
<circle cx="1216.0" cy="1222.8" r="6.4"/>
<circle cx="1255.2" cy="1218.4" r="6.4"/>
<circle cx="1236.5" cy="1237.2" r="6.4"/>
<circle cx="1240.3" cy="1246.4" r="6.4"/>
<circle cx="1164.6" cy="1251.9" r="6.4"/>
<circle cx="1223.7" cy="1257.7" r="6.4"/>
<circle cx="1081.7" cy="1268.2" r="6.4"/>
<circle cx="1077.9" cy="1271.2" r="6.4"/>
<circle cx="1168.2" cy="1268.2" r="6.4"/>
<circle cx="1212.6" cy="1267.4" r="6.4"/>
<circle cx="1269.6" cy="1269.1" r="6.4"/>
<circle cx="1321.2" cy="1264.9" r="6.4"/>
<circle cx="1112.9" cy="1278.7" r="6.4"/>
<circle cx="1142.4" cy="1282.1" r="6.4"/>
<circle cx="1186.4" cy="1279.7" r="6.4"/>
<circle cx="1180.6" cy="1283.7" r="6.4"/>
<circle cx="1253.3" cy="1280.0" r="6.4"/>
<circle cx="1245.7" cy="1286.0" r="6.4"/>
<circle cx="1282.6" cy="1282.1" r="6.4"/>
<circle cx="1314.6" cy="1286.0" r="6.4"/>
<circle cx="1306.9" cy="1289.2" r="6.4"/>
<circle cx="1068.3" cy="1286.9" r="6.4"/>
<circle cx="1090.1" cy="1290.2" r="6.4"/>
<circle cx="1098.4" cy="1289.2" r="6.4"/>
<circle cx="1295.4" cy="1292.1" r="6.4"/>
<circle cx="1055.7" cy="1296.7" r="6.4"/>
<circle cx="1244.3" cy="1295.5" r="6.4"/>
<circle cx="1288.2" cy="1297.4" r="6.4"/>
<circle cx="1137.0" cy="1297.6" r="6.4"/>
<circle cx="1151.5" cy="1297.8" r="6.4"/>
<circle cx="1170.1" cy="1298.4" r="6.4"/>
<circle cx="1179.7" cy="1293.0" r="6.4"/>
<circle cx="1190.6" cy="1294.6" r="6.4"/>
<circle cx="1205.1" cy="1298.4" r="6.4"/>
<circle cx="1100.3" cy="1297.4" r="6.4"/>
<circle cx="1095.5" cy="1303.2" r="6.4"/>
<circle cx="1107.0" cy="1305.1" r="6.4"/>
<circle cx="1234.6" cy="1303.8" r="6.4"/>
<circle cx="1183.1" cy="1304.1" r="6.4"/>
<circle cx="1187.3" cy="1301.3" r="6.4"/>
<circle cx="1192.1" cy="1308.4" r="6.4"/>
<circle cx="1088.8" cy="1311.4" r="6.4"/>
<circle cx="1273.4" cy="1310.7" r="6.4"/>
<circle cx="1317.4" cy="1310.8" r="6.4"/>
<circle cx="1083.4" cy="1319.5" r="6.4"/>
<circle cx="1173.9" cy="1317.5" r="6.4"/>
<circle cx="1177.8" cy="1318.5" r="6.4"/>
<circle cx="1284.7" cy="1317.9" r="6.4"/>
<circle cx="1303.3" cy="1315.2" r="6.4"/>
<circle cx="1319.9" cy="1318.1" r="6.4"/>
<circle cx="1172.0" cy="1325.8" r="6.4"/>
<circle cx="1149.8" cy="1325.2" r="6.4"/>
<circle cx="1217.9" cy="1322.3" r="6.4"/>
<circle cx="1220.2" cy="1328.1" r="6.4"/>
<circle cx="1310.2" cy="1328.1" r="6.4"/>
<circle cx="1316.1" cy="1331.5" r="6.4"/>
<circle cx="1059.3" cy="1337.8" r="6.4"/>
<circle cx="1184.8" cy="1332.7" r="6.4"/>
<circle cx="1196.1" cy="1333.4" r="6.4"/>
<circle cx="1233.0" cy="1333.2" r="6.4"/>
<circle cx="1297.5" cy="1338.0" r="6.4"/>
<circle cx="1194.0" cy="1340.5" r="6.4"/>
<circle cx="1225.2" cy="1339.2" r="6.4"/>
<circle cx="1154.8" cy="1340.7" r="6.4"/>
<circle cx="1160.9" cy="1341.3" r="6.4"/>
<circle cx="1175.7" cy="1341.1" r="6.4"/>
<circle cx="1299.8" cy="1342.8" r="6.4"/>
<circle cx="1227.5" cy="1344.3" r="6.4"/>
<circle cx="1271.9" cy="1342.0" r="6.4"/>
<circle cx="1241.8" cy="1346.8" r="6.4"/>
<circle cx="1249.5" cy="1348.2" r="6.4"/>
<circle cx="1265.8" cy="1347.2" r="6.4"/>
<circle cx="1122.3" cy="1349.1" r="6.4"/>
<circle cx="1116.5" cy="1352.0" r="6.4"/>
<circle cx="1140.4" cy="1348.2" r="6.4"/>
<circle cx="1214.1" cy="1350.3" r="6.4"/>
<circle cx="1286.4" cy="1352.2" r="6.4"/>
<circle cx="1199.6" cy="1354.1" r="6.4"/>
<circle cx="1066.4" cy="1354.8" r="6.4"/>
<circle cx="1256.2" cy="1355.8" r="6.4"/>
<circle cx="1312.3" cy="1355.8" r="6.4"/>
<circle cx="1124.2" cy="1357.7" r="6.4"/>
<circle cx="1079.6" cy="1360.6" r="6.4"/>
<circle cx="1092.6" cy="1359.2" r="6.4"/>
<circle cx="1153.3" cy="1360.6" r="6.4"/>
<circle cx="1162.8" cy="1359.4" r="6.4"/>
<circle cx="1238.4" cy="1359.6" r="6.4"/>
<circle cx="1264.8" cy="1360.0" r="6.4"/>
<circle cx="1277.2" cy="1358.7" r="6.4"/>
<circle cx="1308.2" cy="1361.5" r="6.4"/>
<circle cx="1323.2" cy="1362.9" r="6.4"/>
<circle cx="1109.1" cy="1363.5" r="6.4"/>
<circle cx="1221.2" cy="1366.3" r="6.4"/>
<circle cx="1229.4" cy="1365.4" r="6.4"/>
<circle cx="1197.8" cy="1370.5" r="6.4"/>
<circle cx="1210.3" cy="1372.1" r="6.4"/>
<circle cx="1249.7" cy="1373.4" r="6.4"/>
<circle cx="1120.4" cy="1374.0" r="6.4"/>
<circle cx="1110.8" cy="1375.9" r="6.4"/>
<circle cx="1126.1" cy="1379.7" r="6.4"/>
<circle cx="1114.6" cy="1380.3" r="6.4"/>
<circle cx="1292.2" cy="1378.2" r="6.4"/>
<circle cx="1280.7" cy="1382.6" r="6.4"/>
<circle cx="1290.3" cy="1383.5" r="6.4"/>
<circle cx="1203.6" cy="1382.0" r="6.4"/>
<circle cx="1207.2" cy="1387.4" r="6.4"/>
<circle cx="1157.1" cy="1383.0" r="6.4"/>
<circle cx="1166.5" cy="1387.4" r="6.4"/>
<circle cx="1127.1" cy="1390.2" r="6.4"/>
<circle cx="1132.2" cy="1391.2" r="6.4"/>
<circle cx="1135.1" cy="1397.9" r="6.4"/>
<circle cx="1070.4" cy="1397.1" r="6.4"/>
<circle cx="1231.1" cy="1396.9" r="6.4"/>
<circle cx="1275.3" cy="1398.1" r="6.4"/>
<circle cx="1293.5" cy="1399.2" r="6.4"/>
<circle cx="1118.4" cy="1404.0" r="6.4"/>
<circle cx="1101.6" cy="1407.1" r="6.4"/>
<circle cx="1262.3" cy="1406.9" r="6.4"/>
<circle cx="1301.4" cy="1406.7" r="6.4"/>
<circle cx="1057.4" cy="1410.9" r="6.4"/>
<circle cx="1075.8" cy="1413.2" r="6.4"/>
<circle cx="1074.1" cy="1418.0" r="6.4"/>
<circle cx="1087.1" cy="1417.4" r="6.4"/>
<circle cx="1129.3" cy="1426.0" r="6.4"/>
<circle cx="1201.5" cy="1426.0" r="6.4"/>
<circle cx="1279.2" cy="1433.5" r="6.4"/>
<circle cx="1064.9" cy="1435.6" r="6.4"/>
<circle cx="1061.0" cy="1440.6" r="6.4"/>
<circle cx="1085.2" cy="1441.5" r="6.4"/>
<circle cx="1103.5" cy="1442.3" r="6.4"/>
<circle cx="1133.0" cy="1441.3" r="6.4"/>
<circle cx="1146.2" cy="1442.5" r="6.4"/>
<circle cx="1072.1" cy="1450.3" r="6.4"/>
<circle cx="1063.0" cy="1462.6" r="6.4"/>
<circle cx="1305.0" cy="1459.1" r="6.4"/>
<circle cx="1680.1" cy="1159.1" r="6.4"/>
<circle cx="1148.2" cy="1513.0" r="6.4"/>
<circle cx="1267.8" cy="1513.5" r="6.4"/>
<circle cx="1345.6" cy="1517.8" r="6.4"/>
<circle cx="1594.4" cy="1529.4" r="6.4"/>
<circle cx="1678.0" cy="1551.6" r="6.4"/>
<circle cx="1395.3" cy="1232.2" r="6.4"/>
<circle cx="1424.8" cy="1241.2" r="6.4"/>
<circle cx="1430.5" cy="1250.8" r="6.4"/>
<circle cx="1450.8" cy="1258.6" r="6.4"/>
<circle cx="1520.8" cy="1258.4" r="6.4"/>
<circle cx="1563.5" cy="1254.0" r="6.4"/>
<circle cx="1460.2" cy="1269.5" r="6.4"/>
<circle cx="1327.2" cy="1273.5" r="6.4"/>
<circle cx="1354.6" cy="1279.8" r="6.4"/>
<circle cx="1371.2" cy="1282.7" r="6.4"/>
<circle cx="1382.7" cy="1278.3" r="6.4"/>
<circle cx="1399.3" cy="1277.7" r="6.4"/>
<circle cx="1423.3" cy="1276.8" r="6.4"/>
<circle cx="1443.4" cy="1282.7" r="6.4"/>
<circle cx="1493.3" cy="1280.8" r="6.4"/>
<circle cx="1550.5" cy="1286.9" r="6.4"/>
<circle cx="1472.6" cy="1289.2" r="6.4"/>
<circle cx="1480.3" cy="1291.7" r="6.4"/>
<circle cx="1495.2" cy="1291.3" r="6.4"/>
<circle cx="1426.7" cy="1293.2" r="6.4"/>
<circle cx="1445.3" cy="1290.4" r="6.4"/>
<circle cx="1448.7" cy="1296.5" r="6.4"/>
<circle cx="1407.6" cy="1295.5" r="6.4"/>
<circle cx="1413.3" cy="1297.4" r="6.4"/>
<circle cx="1567.3" cy="1293.2" r="6.4"/>
<circle cx="1539.2" cy="1296.7" r="6.4"/>
<circle cx="1478.4" cy="1299.4" r="6.4"/>
<circle cx="1421.0" cy="1301.7" r="6.4"/>
<circle cx="1511.8" cy="1299.7" r="6.4"/>
<circle cx="1441.6" cy="1304.1" r="6.4"/>
<circle cx="1362.2" cy="1305.1" r="6.4"/>
<circle cx="1391.7" cy="1306.6" r="6.4"/>
<circle cx="1489.5" cy="1305.1" r="6.4"/>
<circle cx="1498.5" cy="1303.6" r="6.4"/>
<circle cx="1507.1" cy="1304.1" r="6.4"/>
<circle cx="1593.2" cy="1304.7" r="6.4"/>
<circle cx="1378.9" cy="1309.5" r="6.4"/>
<circle cx="1428.6" cy="1308.9" r="6.4"/>
<circle cx="1514.3" cy="1309.5" r="6.4"/>
<circle cx="1533.5" cy="1308.9" r="6.4"/>
<circle cx="1543.0" cy="1309.3" r="6.4"/>
<circle cx="1554.3" cy="1311.8" r="6.4"/>
<circle cx="1565.4" cy="1311.8" r="6.4"/>
<circle cx="1440.1" cy="1311.4" r="6.4"/>
<circle cx="1367.4" cy="1317.5" r="6.4"/>
<circle cx="1373.1" cy="1314.7" r="6.4"/>
<circle cx="1435.3" cy="1314.7" r="6.4"/>
<circle cx="1437.8" cy="1318.1" r="6.4"/>
<circle cx="1575.0" cy="1317.0" r="6.4"/>
<circle cx="1587.4" cy="1317.5" r="6.4"/>
<circle cx="1333.0" cy="1321.7" r="6.4"/>
<circle cx="1413.9" cy="1321.4" r="6.4"/>
<circle cx="1419.4" cy="1322.3" r="6.4"/>
<circle cx="1476.8" cy="1320.4" r="6.4"/>
<circle cx="1377.0" cy="1324.2" r="6.4"/>
<circle cx="1570.2" cy="1323.3" r="6.4"/>
<circle cx="1532.1" cy="1325.8" r="6.4"/>
<circle cx="1517.2" cy="1326.7" r="6.4"/>
<circle cx="1576.9" cy="1328.1" r="6.4"/>
<circle cx="1584.6" cy="1328.1" r="6.4"/>
<circle cx="1340.2" cy="1330.5" r="6.4"/>
<circle cx="1356.9" cy="1330.9" r="6.4"/>
<circle cx="1446.8" cy="1330.4" r="6.4"/>
<circle cx="1502.3" cy="1330.9" r="6.4"/>
<circle cx="1487.9" cy="1331.1" r="6.4"/>
<circle cx="1353.0" cy="1334.8" r="6.4"/>
<circle cx="1360.7" cy="1335.3" r="6.4"/>
<circle cx="1400.9" cy="1333.6" r="6.4"/>
<circle cx="1432.1" cy="1335.5" r="6.4"/>
<circle cx="1515.7" cy="1334.2" r="6.4"/>
<circle cx="1508.0" cy="1336.7" r="6.4"/>
<circle cx="1498.5" cy="1338.6" r="6.4"/>
<circle cx="1546.9" cy="1339.0" r="6.4"/>
<circle cx="1527.7" cy="1339.5" r="6.4"/>
<circle cx="1375.4" cy="1339.5" r="6.4"/>
<circle cx="1535.8" cy="1343.0" r="6.4"/>
<circle cx="1559.7" cy="1343.8" r="6.4"/>
<circle cx="1347.3" cy="1345.7" r="6.4"/>
<circle cx="1469.2" cy="1345.5" r="6.4"/>
<circle cx="1463.4" cy="1347.8" r="6.4"/>
<circle cx="1506.1" cy="1347.2" r="6.4"/>
<circle cx="1358.8" cy="1347.2" r="6.4"/>
<circle cx="1365.9" cy="1350.4" r="6.4"/>
<circle cx="1389.6" cy="1349.1" r="6.4"/>
<circle cx="1338.1" cy="1352.6" r="6.4"/>
<circle cx="1581.9" cy="1351.0" r="6.4"/>
<circle cx="1531.0" cy="1356.2" r="6.4"/>
<circle cx="1522.4" cy="1357.7" r="6.4"/>
<circle cx="1349.6" cy="1359.2" r="6.4"/>
<circle cx="1483.7" cy="1358.3" r="6.4"/>
<circle cx="1471.1" cy="1359.2" r="6.4"/>
<circle cx="1380.8" cy="1358.7" r="6.4"/>
<circle cx="1351.1" cy="1362.5" r="6.4"/>
<circle cx="1482.2" cy="1361.5" r="6.4"/>
<circle cx="1386.5" cy="1364.4" r="6.4"/>
<circle cx="1589.3" cy="1363.5" r="6.4"/>
<circle cx="1527.2" cy="1365.4" r="6.4"/>
<circle cx="1518.5" cy="1368.2" r="6.4"/>
<circle cx="1452.5" cy="1365.9" r="6.4"/>
<circle cx="1568.7" cy="1368.8" r="6.4"/>
<circle cx="1330.7" cy="1373.0" r="6.4"/>
<circle cx="1384.2" cy="1369.2" r="6.4"/>
<circle cx="1402.8" cy="1372.6" r="6.4"/>
<circle cx="1458.5" cy="1374.0" r="6.4"/>
<circle cx="1579.8" cy="1373.6" r="6.4"/>
<circle cx="1585.9" cy="1372.1" r="6.4"/>
<circle cx="1561.4" cy="1376.5" r="6.4"/>
<circle cx="1397.1" cy="1380.1" r="6.4"/>
<circle cx="1406.6" cy="1381.6" r="6.4"/>
<circle cx="1417.5" cy="1379.7" r="6.4"/>
<circle cx="1485.6" cy="1380.1" r="6.4"/>
<circle cx="1491.8" cy="1383.0" r="6.4"/>
<circle cx="1467.8" cy="1382.6" r="6.4"/>
<circle cx="1537.5" cy="1385.5" r="6.4"/>
<circle cx="1552.0" cy="1387.4" r="6.4"/>
<circle cx="1454.5" cy="1388.7" r="6.4"/>
<circle cx="1463.1" cy="1387.4" r="6.4"/>
<circle cx="1465.9" cy="1391.8" r="6.4"/>
<circle cx="1474.9" cy="1391.2" r="6.4"/>
<circle cx="1558.3" cy="1390.6" r="6.4"/>
<circle cx="1325.1" cy="1391.2" r="6.4"/>
<circle cx="1343.7" cy="1395.4" r="6.4"/>
<circle cx="1369.5" cy="1397.1" r="6.4"/>
<circle cx="1434.4" cy="1396.9" r="6.4"/>
<circle cx="1524.7" cy="1396.4" r="6.4"/>
<circle cx="1546.3" cy="1395.0" r="6.4"/>
<circle cx="1500.8" cy="1400.0" r="6.4"/>
<circle cx="1336.2" cy="1405.2" r="6.4"/>
<circle cx="1541.1" cy="1406.1" r="6.4"/>
<circle cx="1555.9" cy="1409.8" r="6.4"/>
<circle cx="1591.1" cy="1411.3" r="6.4"/>
<circle cx="1364.1" cy="1418.4" r="6.4"/>
<circle cx="1456.4" cy="1419.5" r="6.4"/>
<circle cx="1387.9" cy="1419.3" r="6.4"/>
<circle cx="1393.6" cy="1422.2" r="6.4"/>
<circle cx="1415.8" cy="1430.0" r="6.4"/>
<circle cx="1329.1" cy="1433.3" r="6.4"/>
<circle cx="1334.9" cy="1432.0" r="6.4"/>
<circle cx="1578.2" cy="1442.1" r="6.4"/>
<circle cx="1410.3" cy="1456.2" r="6.4"/>
<circle cx="1341.8" cy="1483.2" r="6.4"/>
<circle cx="1744.5" cy="1196.6" r="6.4"/>
<circle cx="1742.6" cy="1204.7" r="6.4"/>
<circle cx="1642.9" cy="1204.1" r="6.4"/>
<circle cx="1611.6" cy="1235.3" r="6.4"/>
<circle cx="1735.0" cy="1240.1" r="6.4"/>
<circle cx="1803.7" cy="1240.6" r="6.4"/>
<circle cx="1831.0" cy="1246.0" r="6.4"/>
<circle cx="1851.7" cy="1244.5" r="6.4"/>
<circle cx="1681.6" cy="1246.4" r="6.4"/>
<circle cx="1740.7" cy="1249.0" r="6.4"/>
<circle cx="1736.9" cy="1252.5" r="6.4"/>
<circle cx="1700.0" cy="1256.1" r="6.4"/>
<circle cx="1766.5" cy="1256.9" r="6.4"/>
<circle cx="1630.1" cy="1275.3" r="6.4"/>
<circle cx="1606.0" cy="1277.9" r="6.4"/>
<circle cx="1674.1" cy="1281.4" r="6.4"/>
<circle cx="1711.2" cy="1281.0" r="6.4"/>
<circle cx="1598.6" cy="1286.0" r="6.4"/>
<circle cx="1637.4" cy="1286.2" r="6.4"/>
<circle cx="1613.5" cy="1287.5" r="6.4"/>
<circle cx="1615.4" cy="1291.3" r="6.4"/>
<circle cx="1687.1" cy="1289.2" r="6.4"/>
<circle cx="1696.7" cy="1287.1" r="6.4"/>
<circle cx="1753.5" cy="1289.8" r="6.4"/>
<circle cx="1781.3" cy="1294.0" r="6.4"/>
<circle cx="1790.5" cy="1299.2" r="6.4"/>
<circle cx="1818.6" cy="1298.4" r="6.4"/>
<circle cx="1805.4" cy="1301.3" r="6.4"/>
<circle cx="1812.5" cy="1304.1" r="6.4"/>
<circle cx="1618.8" cy="1303.2" r="6.4"/>
<circle cx="1749.9" cy="1303.2" r="6.4"/>
<circle cx="1765.0" cy="1304.1" r="6.4"/>
<circle cx="1628.2" cy="1307.8" r="6.4"/>
<circle cx="1689.1" cy="1308.9" r="6.4"/>
<circle cx="1692.9" cy="1306.1" r="6.4"/>
<circle cx="1701.9" cy="1311.4" r="6.4"/>
<circle cx="1715.3" cy="1308.9" r="6.4"/>
<circle cx="1763.1" cy="1311.2" r="6.4"/>
<circle cx="1849.6" cy="1306.6" r="6.4"/>
<circle cx="1634.0" cy="1318.1" r="6.4"/>
<circle cx="1777.4" cy="1317.5" r="6.4"/>
<circle cx="1664.9" cy="1319.6" r="6.4"/>
<circle cx="1651.9" cy="1322.3" r="6.4"/>
<circle cx="1825.7" cy="1321.9" r="6.4"/>
<circle cx="1775.5" cy="1323.9" r="6.4"/>
<circle cx="1639.3" cy="1326.1" r="6.4"/>
<circle cx="1635.5" cy="1330.0" r="6.4"/>
<circle cx="1596.8" cy="1329.2" r="6.4"/>
<circle cx="1784.7" cy="1329.0" r="6.4"/>
<circle cx="1796.2" cy="1328.4" r="6.4"/>
<circle cx="1624.4" cy="1333.4" r="6.4"/>
<circle cx="1712.6" cy="1332.3" r="6.4"/>
<circle cx="1718.7" cy="1333.2" r="6.4"/>
<circle cx="1683.5" cy="1336.5" r="6.4"/>
<circle cx="1745.9" cy="1339.9" r="6.4"/>
<circle cx="1751.2" cy="1342.0" r="6.4"/>
<circle cx="1756.0" cy="1341.1" r="6.4"/>
<circle cx="1827.4" cy="1339.9" r="6.4"/>
<circle cx="1829.7" cy="1344.3" r="6.4"/>
<circle cx="1607.9" cy="1345.7" r="6.4"/>
<circle cx="1694.4" cy="1346.0" r="6.4"/>
<circle cx="1788.5" cy="1347.8" r="6.4"/>
<circle cx="1800.0" cy="1346.8" r="6.4"/>
<circle cx="1774.2" cy="1350.1" r="6.4"/>
<circle cx="1645.1" cy="1354.8" r="6.4"/>
<circle cx="1739.2" cy="1352.9" r="6.4"/>
<circle cx="1729.2" cy="1354.8" r="6.4"/>
<circle cx="1757.4" cy="1356.2" r="6.4"/>
<circle cx="1809.2" cy="1356.6" r="6.4"/>
<circle cx="1796.2" cy="1352.9" r="6.4"/>
<circle cx="1792.4" cy="1357.7" r="6.4"/>
<circle cx="1647.9" cy="1361.5" r="6.4"/>
<circle cx="1616.9" cy="1362.1" r="6.4"/>
<circle cx="1626.5" cy="1361.0" r="6.4"/>
<circle cx="1663.6" cy="1361.5" r="6.4"/>
<circle cx="1661.3" cy="1365.4" r="6.4"/>
<circle cx="1768.5" cy="1361.5" r="6.4"/>
<circle cx="1782.8" cy="1364.4" r="6.4"/>
<circle cx="1847.9" cy="1360.2" r="6.4"/>
<circle cx="1698.2" cy="1363.5" r="6.4"/>
<circle cx="1717.0" cy="1364.8" r="6.4"/>
<circle cx="1709.1" cy="1368.6" r="6.4"/>
<circle cx="1758.9" cy="1368.6" r="6.4"/>
<circle cx="1771.3" cy="1368.2" r="6.4"/>
<circle cx="1840.2" cy="1369.2" r="6.4"/>
<circle cx="1822.0" cy="1371.1" r="6.4"/>
<circle cx="1646.0" cy="1370.2" r="6.4"/>
<circle cx="1733.4" cy="1372.6" r="6.4"/>
<circle cx="1779.6" cy="1373.4" r="6.4"/>
<circle cx="1814.4" cy="1375.3" r="6.4"/>
<circle cx="1845.6" cy="1376.5" r="6.4"/>
<circle cx="1656.1" cy="1375.9" r="6.4"/>
<circle cx="1650.4" cy="1380.3" r="6.4"/>
<circle cx="1726.0" cy="1378.4" r="6.4"/>
<circle cx="1703.4" cy="1380.7" r="6.4"/>
<circle cx="1707.2" cy="1385.5" r="6.4"/>
<circle cx="1603.5" cy="1382.0" r="6.4"/>
<circle cx="1610.0" cy="1386.8" r="6.4"/>
<circle cx="1691.0" cy="1385.1" r="6.4"/>
<circle cx="1770.4" cy="1383.0" r="6.4"/>
<circle cx="1794.3" cy="1383.5" r="6.4"/>
<circle cx="1816.3" cy="1387.9" r="6.4"/>
<circle cx="1820.7" cy="1387.9" r="6.4"/>
<circle cx="1836.4" cy="1390.8" r="6.4"/>
<circle cx="1631.8" cy="1392.5" r="6.4"/>
<circle cx="1620.6" cy="1396.6" r="6.4"/>
<circle cx="1659.4" cy="1402.1" r="6.4"/>
<circle cx="1672.4" cy="1401.5" r="6.4"/>
<circle cx="1685.6" cy="1401.3" r="6.4"/>
<circle cx="1723.5" cy="1401.3" r="6.4"/>
<circle cx="1731.7" cy="1402.7" r="6.4"/>
<circle cx="1748.0" cy="1403.6" r="6.4"/>
<circle cx="1761.0" cy="1399.2" r="6.4"/>
<circle cx="1811.1" cy="1401.7" r="6.4"/>
<circle cx="1602.6" cy="1407.5" r="6.4"/>
<circle cx="1823.9" cy="1409.8" r="6.4"/>
<circle cx="1833.1" cy="1416.1" r="6.4"/>
<circle cx="1807.7" cy="1415.1" r="6.4"/>
<circle cx="1801.6" cy="1418.0" r="6.4"/>
<circle cx="1720.4" cy="1417.6" r="6.4"/>
<circle cx="1641.0" cy="1419.3" r="6.4"/>
<circle cx="1787.0" cy="1424.9" r="6.4"/>
<circle cx="1657.5" cy="1426.6" r="6.4"/>
<circle cx="1654.0" cy="1434.8" r="6.4"/>
<circle cx="1622.5" cy="1436.9" r="6.4"/>
<circle cx="1722.3" cy="1436.9" r="6.4"/>
<circle cx="1675.9" cy="1440.2" r="6.4"/>
<circle cx="1835.0" cy="1436.2" r="6.4"/>
<circle cx="1600.5" cy="1466.0" r="6.4"/>
<circle cx="1838.7" cy="1470.2" r="6.4"/>
<circle cx="1727.9" cy="1472.7" r="6.4"/>
<circle cx="1667.1" cy="1476.5" r="6.4"/>
<circle cx="1670.5" cy="1488.0" r="6.4"/>
<circle cx="1669.0" cy="1499.7" r="6.4"/>
<circle cx="407.6" cy="1517.2" r="6.4"/>
<circle cx="462.7" cy="1538.4" r="6.4"/>
<circle cx="606.7" cy="1524.6" r="6.4"/>
<circle cx="811.5" cy="1572.8" r="6.4"/>
<circle cx="941.2" cy="1531.0" r="6.4"/>
<circle cx="409.2" cy="1646.9" r="6.4"/>
<circle cx="389.0" cy="1190.5" r="6.4"/>
<circle cx="438.7" cy="1185.1" r="6.4"/>
<circle cx="453.5" cy="1205.0" r="6.4"/>
<circle cx="451.9" cy="1217.7" r="6.4"/>
<circle cx="398.2" cy="1231.1" r="6.4"/>
<circle cx="420.2" cy="1233.0" r="6.4"/>
<circle cx="442.6" cy="1233.9" r="6.4"/>
<circle cx="473.8" cy="1230.9" r="6.4"/>
<circle cx="479.5" cy="1238.1" r="6.4"/>
<circle cx="368.3" cy="1239.9" r="6.4"/>
<circle cx="385.2" cy="1242.9" r="6.4"/>
<circle cx="413.1" cy="1247.3" r="6.4"/>
<circle cx="292.8" cy="1263.2" r="6.4"/>
<circle cx="373.9" cy="1258.0" r="6.4"/>
<circle cx="383.4" cy="1256.9" r="6.4"/>
<circle cx="380.2" cy="1262.1" r="6.4"/>
<circle cx="387.3" cy="1265.5" r="6.4"/>
<circle cx="363.0" cy="1269.1" r="6.4"/>
<circle cx="429.2" cy="1272.2" r="6.4"/>
<circle cx="437.0" cy="1277.7" r="6.4"/>
<circle cx="509.1" cy="1272.0" r="6.4"/>
<circle cx="296.6" cy="1278.3" r="6.4"/>
<circle cx="503.2" cy="1281.8" r="6.4"/>
<circle cx="514.5" cy="1284.6" r="6.4"/>
<circle cx="335.2" cy="1284.1" r="6.4"/>
<circle cx="287.0" cy="1289.0" r="6.4"/>
<circle cx="295.1" cy="1288.8" r="6.4"/>
<circle cx="338.9" cy="1294.0" r="6.4"/>
<circle cx="472.0" cy="1290.4" r="6.4"/>
<circle cx="434.9" cy="1293.6" r="6.4"/>
<circle cx="433.2" cy="1299.6" r="6.4"/>
<circle cx="492.1" cy="1294.6" r="6.4"/>
<circle cx="510.3" cy="1298.4" r="6.4"/>
<circle cx="507.0" cy="1303.6" r="6.4"/>
<circle cx="512.8" cy="1303.6" r="6.4"/>
<circle cx="291.2" cy="1299.4" r="6.4"/>
<circle cx="285.3" cy="1304.5" r="6.4"/>
<circle cx="381.5" cy="1301.3" r="6.4"/>
<circle cx="306.0" cy="1310.1" r="6.4"/>
<circle cx="444.3" cy="1312.4" r="6.4"/>
<circle cx="457.3" cy="1311.4" r="6.4"/>
<circle cx="352.1" cy="1313.9" r="6.4"/>
<circle cx="481.2" cy="1319.8" r="6.4"/>
<circle cx="272.5" cy="1323.3" r="6.4"/>
<circle cx="320.3" cy="1325.2" r="6.4"/>
<circle cx="355.5" cy="1324.0" r="6.4"/>
<circle cx="376.2" cy="1322.3" r="6.4"/>
<circle cx="372.5" cy="1326.5" r="6.4"/>
<circle cx="423.2" cy="1328.1" r="6.4"/>
<circle cx="426.7" cy="1328.4" r="6.4"/>
<circle cx="482.9" cy="1327.1" r="6.4"/>
<circle cx="486.8" cy="1329.6" r="6.4"/>
<circle cx="304.0" cy="1329.6" r="6.4"/>
<circle cx="280.1" cy="1333.2" r="6.4"/>
<circle cx="298.3" cy="1336.7" r="6.4"/>
<circle cx="361.2" cy="1336.3" r="6.4"/>
<circle cx="268.8" cy="1339.0" r="6.4"/>
<circle cx="450.0" cy="1341.1" r="6.4"/>
<circle cx="456.1" cy="1342.8" r="6.4"/>
<circle cx="444.3" cy="1343.4" r="6.4"/>
<circle cx="440.5" cy="1346.4" r="6.4"/>
<circle cx="505.3" cy="1345.3" r="6.4"/>
<circle cx="257.9" cy="1349.3" r="6.4"/>
<circle cx="337.1" cy="1347.8" r="6.4"/>
<circle cx="401.6" cy="1349.9" r="6.4"/>
<circle cx="396.1" cy="1352.4" r="6.4"/>
<circle cx="309.4" cy="1352.0" r="6.4"/>
<circle cx="274.4" cy="1352.9" r="6.4"/>
<circle cx="266.9" cy="1355.8" r="6.4"/>
<circle cx="276.7" cy="1356.8" r="6.4"/>
<circle cx="324.7" cy="1354.8" r="6.4"/>
<circle cx="314.2" cy="1356.8" r="6.4"/>
<circle cx="348.2" cy="1353.9" r="6.4"/>
<circle cx="366.8" cy="1352.0" r="6.4"/>
<circle cx="372.0" cy="1352.9" r="6.4"/>
<circle cx="360.1" cy="1355.8" r="6.4"/>
<circle cx="431.5" cy="1353.5" r="6.4"/>
<circle cx="418.5" cy="1357.3" r="6.4"/>
<circle cx="470.1" cy="1358.3" r="6.4"/>
<circle cx="377.9" cy="1360.0" r="6.4"/>
<circle cx="428.0" cy="1361.9" r="6.4"/>
<circle cx="318.0" cy="1360.6" r="6.4"/>
<circle cx="327.6" cy="1361.5" r="6.4"/>
<circle cx="344.4" cy="1361.5" r="6.4"/>
<circle cx="316.5" cy="1364.8" r="6.4"/>
<circle cx="350.5" cy="1366.9" r="6.4"/>
<circle cx="334.3" cy="1366.3" r="6.4"/>
<circle cx="289.5" cy="1368.2" r="6.4"/>
<circle cx="281.3" cy="1372.1" r="6.4"/>
<circle cx="390.7" cy="1369.8" r="6.4"/>
<circle cx="458.6" cy="1367.7" r="6.4"/>
<circle cx="464.9" cy="1370.2" r="6.4"/>
<circle cx="331.4" cy="1373.0" r="6.4"/>
<circle cx="341.0" cy="1374.9" r="6.4"/>
<circle cx="404.5" cy="1374.0" r="6.4"/>
<circle cx="416.5" cy="1373.0" r="6.4"/>
<circle cx="422.5" cy="1376.3" r="6.4"/>
<circle cx="468.6" cy="1376.5" r="6.4"/>
<circle cx="494.4" cy="1374.4" r="6.4"/>
<circle cx="498.2" cy="1376.3" r="6.4"/>
<circle cx="346.3" cy="1380.7" r="6.4"/>
<circle cx="311.3" cy="1380.7" r="6.4"/>
<circle cx="322.6" cy="1380.3" r="6.4"/>
<circle cx="261.2" cy="1384.1" r="6.4"/>
<circle cx="365.1" cy="1386.4" r="6.4"/>
<circle cx="476.4" cy="1386.0" r="6.4"/>
<circle cx="488.7" cy="1387.0" r="6.4"/>
<circle cx="490.6" cy="1389.9" r="6.4"/>
<circle cx="392.6" cy="1388.3" r="6.4"/>
<circle cx="270.8" cy="1390.2" r="6.4"/>
<circle cx="283.8" cy="1391.0" r="6.4"/>
<circle cx="300.4" cy="1395.4" r="6.4"/>
<circle cx="394.5" cy="1397.9" r="6.4"/>
<circle cx="414.6" cy="1402.1" r="6.4"/>
<circle cx="461.1" cy="1402.3" r="6.4"/>
<circle cx="263.3" cy="1405.5" r="6.4"/>
<circle cx="265.4" cy="1408.8" r="6.4"/>
<circle cx="278.2" cy="1405.9" r="6.4"/>
<circle cx="399.9" cy="1408.4" r="6.4"/>
<circle cx="499.6" cy="1409.4" r="6.4"/>
<circle cx="318.4" cy="1411.1" r="6.4"/>
<circle cx="328.0" cy="1410.7" r="6.4"/>
<circle cx="353.8" cy="1410.5" r="6.4"/>
<circle cx="447.9" cy="1418.8" r="6.4"/>
<circle cx="484.8" cy="1417.6" r="6.4"/>
<circle cx="302.1" cy="1421.0" r="6.4"/>
<circle cx="496.1" cy="1432.3" r="6.4"/>
<circle cx="329.7" cy="1442.1" r="6.4"/>
<circle cx="307.5" cy="1447.1" r="6.4"/>
<circle cx="466.5" cy="1449.6" r="6.4"/>
<circle cx="501.5" cy="1447.1" r="6.4"/>
<circle cx="411.0" cy="1471.7" r="6.4"/>
<circle cx="693.8" cy="1198.9" r="6.4"/>
<circle cx="691.3" cy="1204.3" r="6.4"/>
<circle cx="726.7" cy="1230.1" r="6.4"/>
<circle cx="730.9" cy="1230.5" r="6.4"/>
<circle cx="669.5" cy="1236.6" r="6.4"/>
<circle cx="690.0" cy="1242.0" r="6.4"/>
<circle cx="708.5" cy="1242.3" r="6.4"/>
<circle cx="699.0" cy="1252.3" r="6.4"/>
<circle cx="702.8" cy="1252.3" r="6.4"/>
<circle cx="680.4" cy="1255.4" r="6.4"/>
<circle cx="516.5" cy="1248.7" r="6.4"/>
<circle cx="575.6" cy="1252.5" r="6.4"/>
<circle cx="551.5" cy="1260.3" r="6.4"/>
<circle cx="612.3" cy="1262.1" r="6.4"/>
<circle cx="579.2" cy="1264.9" r="6.4"/>
<circle cx="706.6" cy="1265.5" r="6.4"/>
<circle cx="710.5" cy="1265.9" r="6.4"/>
<circle cx="662.2" cy="1267.4" r="6.4"/>
<circle cx="668.0" cy="1272.0" r="6.4"/>
<circle cx="673.5" cy="1274.5" r="6.4"/>
<circle cx="754.5" cy="1268.6" r="6.4"/>
<circle cx="548.6" cy="1273.3" r="6.4"/>
<circle cx="586.7" cy="1279.5" r="6.4"/>
<circle cx="704.7" cy="1277.4" r="6.4"/>
<circle cx="697.1" cy="1281.2" r="6.4"/>
<circle cx="747.4" cy="1278.9" r="6.4"/>
<circle cx="750.6" cy="1284.6" r="6.4"/>
<circle cx="534.6" cy="1285.6" r="6.4"/>
<circle cx="544.4" cy="1285.0" r="6.4"/>
<circle cx="553.6" cy="1285.6" r="6.4"/>
<circle cx="736.1" cy="1291.1" r="6.4"/>
<circle cx="748.9" cy="1293.0" r="6.4"/>
<circle cx="582.8" cy="1291.1" r="6.4"/>
<circle cx="577.1" cy="1294.6" r="6.4"/>
<circle cx="695.3" cy="1295.3" r="6.4"/>
<circle cx="717.5" cy="1297.4" r="6.4"/>
<circle cx="728.6" cy="1296.9" r="6.4"/>
<circle cx="518.8" cy="1298.8" r="6.4"/>
<circle cx="523.5" cy="1310.5" r="6.4"/>
<circle cx="542.3" cy="1307.0" r="6.4"/>
<circle cx="648.7" cy="1303.8" r="6.4"/>
<circle cx="758.3" cy="1306.2" r="6.4"/>
<circle cx="773.0" cy="1306.4" r="6.4"/>
<circle cx="558.9" cy="1313.3" r="6.4"/>
<circle cx="597.6" cy="1310.1" r="6.4"/>
<circle cx="623.6" cy="1315.6" r="6.4"/>
<circle cx="684.4" cy="1316.2" r="6.4"/>
<circle cx="725.0" cy="1313.7" r="6.4"/>
<circle cx="745.5" cy="1318.5" r="6.4"/>
<circle cx="764.0" cy="1316.6" r="6.4"/>
<circle cx="775.5" cy="1319.5" r="6.4"/>
<circle cx="782.2" cy="1320.4" r="6.4"/>
<circle cx="629.3" cy="1324.2" r="6.4"/>
<circle cx="656.9" cy="1324.0" r="6.4"/>
<circle cx="741.5" cy="1323.3" r="6.4"/>
<circle cx="721.4" cy="1324.2" r="6.4"/>
<circle cx="713.9" cy="1325.8" r="6.4"/>
<circle cx="766.9" cy="1323.3" r="6.4"/>
<circle cx="592.2" cy="1327.1" r="6.4"/>
<circle cx="584.2" cy="1328.6" r="6.4"/>
<circle cx="712.0" cy="1333.2" r="6.4"/>
<circle cx="767.5" cy="1330.0" r="6.4"/>
<circle cx="784.1" cy="1336.3" r="6.4"/>
<circle cx="529.3" cy="1333.4" r="6.4"/>
<circle cx="560.7" cy="1337.6" r="6.4"/>
<circle cx="608.7" cy="1337.2" r="6.4"/>
<circle cx="627.2" cy="1335.1" r="6.4"/>
<circle cx="651.1" cy="1336.3" r="6.4"/>
<circle cx="733.8" cy="1335.1" r="6.4"/>
<circle cx="743.6" cy="1337.6" r="6.4"/>
<circle cx="739.2" cy="1330.9" r="6.4"/>
<circle cx="588.4" cy="1339.0" r="6.4"/>
<circle cx="520.1" cy="1344.7" r="6.4"/>
<circle cx="590.1" cy="1346.2" r="6.4"/>
<circle cx="719.5" cy="1345.9" r="6.4"/>
<circle cx="780.3" cy="1345.3" r="6.4"/>
<circle cx="666.1" cy="1347.8" r="6.4"/>
<circle cx="569.3" cy="1351.0" r="6.4"/>
<circle cx="581.3" cy="1354.5" r="6.4"/>
<circle cx="525.6" cy="1354.8" r="6.4"/>
<circle cx="538.8" cy="1355.8" r="6.4"/>
<circle cx="732.3" cy="1355.0" r="6.4"/>
<circle cx="761.9" cy="1354.1" r="6.4"/>
<circle cx="595.7" cy="1358.3" r="6.4"/>
<circle cx="715.8" cy="1357.9" r="6.4"/>
<circle cx="540.6" cy="1361.0" r="6.4"/>
<circle cx="562.2" cy="1361.5" r="6.4"/>
<circle cx="571.7" cy="1366.3" r="6.4"/>
<circle cx="618.0" cy="1365.0" r="6.4"/>
<circle cx="632.4" cy="1363.1" r="6.4"/>
<circle cx="660.5" cy="1363.8" r="6.4"/>
<circle cx="688.3" cy="1365.9" r="6.4"/>
<circle cx="630.1" cy="1368.2" r="6.4"/>
<circle cx="640.6" cy="1372.1" r="6.4"/>
<circle cx="654.6" cy="1371.5" r="6.4"/>
<circle cx="635.8" cy="1374.9" r="6.4"/>
<circle cx="522.0" cy="1371.1" r="6.4"/>
<circle cx="527.9" cy="1376.3" r="6.4"/>
<circle cx="593.9" cy="1374.2" r="6.4"/>
<circle cx="752.7" cy="1374.2" r="6.4"/>
<circle cx="738.0" cy="1379.3" r="6.4"/>
<circle cx="778.4" cy="1381.4" r="6.4"/>
<circle cx="643.7" cy="1382.8" r="6.4"/>
<circle cx="533.1" cy="1392.0" r="6.4"/>
<circle cx="723.3" cy="1392.5" r="6.4"/>
<circle cx="771.1" cy="1393.1" r="6.4"/>
<circle cx="634.5" cy="1394.6" r="6.4"/>
<circle cx="641.8" cy="1400.8" r="6.4"/>
<circle cx="658.6" cy="1403.4" r="6.4"/>
<circle cx="605.0" cy="1402.3" r="6.4"/>
<circle cx="536.5" cy="1405.0" r="6.4"/>
<circle cx="556.8" cy="1403.4" r="6.4"/>
<circle cx="564.1" cy="1407.5" r="6.4"/>
<circle cx="566.6" cy="1409.8" r="6.4"/>
<circle cx="621.7" cy="1408.8" r="6.4"/>
<circle cx="531.0" cy="1413.8" r="6.4"/>
<circle cx="645.8" cy="1426.8" r="6.4"/>
<circle cx="619.6" cy="1432.3" r="6.4"/>
<circle cx="652.9" cy="1435.8" r="6.4"/>
<circle cx="573.5" cy="1435.0" r="6.4"/>
<circle cx="545.9" cy="1443.2" r="6.4"/>
<circle cx="555.3" cy="1445.7" r="6.4"/>
<circle cx="603.1" cy="1443.6" r="6.4"/>
<circle cx="760.2" cy="1439.0" r="6.4"/>
<circle cx="756.0" cy="1442.3" r="6.4"/>
<circle cx="774.7" cy="1460.1" r="6.4"/>
<circle cx="601.2" cy="1465.2" r="6.4"/>
<circle cx="664.2" cy="1471.4" r="6.4"/>
<circle cx="599.5" cy="1477.3" r="6.4"/>
<circle cx="610.6" cy="1488.2" r="6.4"/>
<circle cx="616.3" cy="1491.6" r="6.4"/>
<circle cx="686.4" cy="1034.4" r="6.4"/>
<circle cx="682.7" cy="1107.0" r="6.4"/>
<circle cx="678.9" cy="1131.0" r="6.4"/>
<circle cx="614.3" cy="1131.9" r="6.4"/>
<circle cx="675.4" cy="1154.3" r="6.4"/>
<circle cx="671.6" cy="1159.7" r="6.4"/>
<circle cx="625.4" cy="1168.5" r="6.4"/>
<circle cx="677.2" cy="1179.4" r="6.4"/>
<circle cx="793.3" cy="1207.7" r="6.4"/>
<circle cx="817.4" cy="1240.6" r="6.4"/>
<circle cx="797.2" cy="1257.7" r="6.4"/>
<circle cx="830.5" cy="1256.1" r="6.4"/>
<circle cx="1013.0" cy="1259.4" r="6.4"/>
<circle cx="1026.0" cy="1257.8" r="6.4"/>
<circle cx="1053.7" cy="1262.8" r="6.4"/>
<circle cx="822.6" cy="1264.9" r="6.4"/>
<circle cx="791.4" cy="1267.8" r="6.4"/>
<circle cx="824.9" cy="1273.2" r="6.4"/>
<circle cx="878.3" cy="1275.4" r="6.4"/>
<circle cx="865.3" cy="1280.8" r="6.4"/>
<circle cx="969.0" cy="1284.6" r="6.4"/>
<circle cx="962.9" cy="1287.5" r="6.4"/>
<circle cx="789.5" cy="1289.8" r="6.4"/>
<circle cx="1003.8" cy="1292.5" r="6.4"/>
<circle cx="1044.6" cy="1290.2" r="6.4"/>
<circle cx="809.8" cy="1296.5" r="6.4"/>
<circle cx="795.3" cy="1301.3" r="6.4"/>
<circle cx="826.8" cy="1301.1" r="6.4"/>
<circle cx="907.8" cy="1297.8" r="6.4"/>
<circle cx="887.1" cy="1304.3" r="6.4"/>
<circle cx="894.7" cy="1304.3" r="6.4"/>
<circle cx="935.5" cy="1304.3" r="6.4"/>
<circle cx="912.5" cy="1307.0" r="6.4"/>
<circle cx="976.1" cy="1306.1" r="6.4"/>
<circle cx="1048.4" cy="1307.0" r="6.4"/>
<circle cx="950.2" cy="1307.6" r="6.4"/>
<circle cx="787.6" cy="1308.9" r="6.4"/>
<circle cx="801.6" cy="1307.0" r="6.4"/>
<circle cx="818.8" cy="1307.0" r="6.4"/>
<circle cx="806.4" cy="1313.7" r="6.4"/>
<circle cx="943.2" cy="1311.2" r="6.4"/>
<circle cx="909.7" cy="1316.0" r="6.4"/>
<circle cx="821.1" cy="1317.2" r="6.4"/>
<circle cx="804.1" cy="1318.5" r="6.4"/>
<circle cx="843.3" cy="1318.5" r="6.4"/>
<circle cx="955.6" cy="1319.5" r="6.4"/>
<circle cx="937.4" cy="1321.7" r="6.4"/>
<circle cx="918.9" cy="1322.7" r="6.4"/>
<circle cx="841.2" cy="1323.9" r="6.4"/>
<circle cx="786.3" cy="1322.3" r="6.4"/>
<circle cx="828.4" cy="1326.5" r="6.4"/>
<circle cx="979.9" cy="1329.6" r="6.4"/>
<circle cx="991.0" cy="1329.2" r="6.4"/>
<circle cx="900.1" cy="1331.3" r="6.4"/>
<circle cx="1050.1" cy="1330.9" r="6.4"/>
<circle cx="1022.4" cy="1334.0" r="6.4"/>
<circle cx="832.2" cy="1333.8" r="6.4"/>
<circle cx="837.9" cy="1338.0" r="6.4"/>
<circle cx="850.9" cy="1337.8" r="6.4"/>
<circle cx="905.8" cy="1337.2" r="6.4"/>
<circle cx="923.1" cy="1336.7" r="6.4"/>
<circle cx="834.1" cy="1343.0" r="6.4"/>
<circle cx="914.5" cy="1341.5" r="6.4"/>
<circle cx="972.2" cy="1344.7" r="6.4"/>
<circle cx="876.2" cy="1346.8" r="6.4"/>
<circle cx="856.1" cy="1348.2" r="6.4"/>
<circle cx="903.9" cy="1348.7" r="6.4"/>
<circle cx="1009.2" cy="1348.7" r="6.4"/>
<circle cx="1024.5" cy="1347.2" r="6.4"/>
<circle cx="861.8" cy="1351.4" r="6.4"/>
<circle cx="917.3" cy="1352.0" r="6.4"/>
<circle cx="954.1" cy="1351.4" r="6.4"/>
<circle cx="845.0" cy="1352.0" r="6.4"/>
<circle cx="838.9" cy="1354.3" r="6.4"/>
<circle cx="970.3" cy="1353.5" r="6.4"/>
<circle cx="987.2" cy="1355.0" r="6.4"/>
<circle cx="1028.3" cy="1353.3" r="6.4"/>
<circle cx="1040.7" cy="1355.4" r="6.4"/>
<circle cx="1011.1" cy="1354.8" r="6.4"/>
<circle cx="1020.6" cy="1358.7" r="6.4"/>
<circle cx="848.8" cy="1360.2" r="6.4"/>
<circle cx="903.0" cy="1360.2" r="6.4"/>
<circle cx="869.3" cy="1362.1" r="6.4"/>
<circle cx="959.4" cy="1361.9" r="6.4"/>
<circle cx="898.6" cy="1364.4" r="6.4"/>
<circle cx="891.5" cy="1365.4" r="6.4"/>
<circle cx="1016.8" cy="1368.2" r="6.4"/>
<circle cx="1031.5" cy="1366.9" r="6.4"/>
<circle cx="920.8" cy="1369.2" r="6.4"/>
<circle cx="808.3" cy="1369.2" r="6.4"/>
<circle cx="798.7" cy="1374.7" r="6.4"/>
<circle cx="846.9" cy="1373.4" r="6.4"/>
<circle cx="867.4" cy="1372.1" r="6.4"/>
<circle cx="883.8" cy="1372.1" r="6.4"/>
<circle cx="948.3" cy="1371.7" r="6.4"/>
<circle cx="995.0" cy="1373.0" r="6.4"/>
<circle cx="966.7" cy="1375.3" r="6.4"/>
<circle cx="985.2" cy="1376.3" r="6.4"/>
<circle cx="939.3" cy="1377.2" r="6.4"/>
<circle cx="896.7" cy="1378.2" r="6.4"/>
<circle cx="881.9" cy="1381.1" r="6.4"/>
<circle cx="929.8" cy="1381.1" r="6.4"/>
<circle cx="974.3" cy="1380.7" r="6.4"/>
<circle cx="1035.4" cy="1376.8" r="6.4"/>
<circle cx="886.7" cy="1374.9" r="6.4"/>
<circle cx="965.2" cy="1390.2" r="6.4"/>
<circle cx="1007.6" cy="1389.3" r="6.4"/>
<circle cx="1037.9" cy="1388.3" r="6.4"/>
<circle cx="1046.5" cy="1389.7" r="6.4"/>
<circle cx="1005.7" cy="1395.0" r="6.4"/>
<circle cx="1033.5" cy="1394.6" r="6.4"/>
<circle cx="854.4" cy="1394.6" r="6.4"/>
<circle cx="870.8" cy="1395.6" r="6.4"/>
<circle cx="989.1" cy="1396.9" r="6.4"/>
<circle cx="928.2" cy="1405.0" r="6.4"/>
<circle cx="1002.1" cy="1405.9" r="6.4"/>
<circle cx="874.3" cy="1406.5" r="6.4"/>
<circle cx="852.3" cy="1408.4" r="6.4"/>
<circle cx="863.8" cy="1409.4" r="6.4"/>
<circle cx="880.4" cy="1411.7" r="6.4"/>
<circle cx="893.0" cy="1410.3" r="6.4"/>
<circle cx="944.1" cy="1408.8" r="6.4"/>
<circle cx="951.8" cy="1411.3" r="6.4"/>
<circle cx="961.3" cy="1412.6" r="6.4"/>
<circle cx="946.6" cy="1414.7" r="6.4"/>
<circle cx="1029.6" cy="1415.3" r="6.4"/>
<circle cx="934.2" cy="1419.3" r="6.4"/>
<circle cx="926.3" cy="1419.9" r="6.4"/>
<circle cx="983.5" cy="1419.3" r="6.4"/>
<circle cx="1018.7" cy="1420.9" r="6.4"/>
<circle cx="998.3" cy="1429.5" r="6.4"/>
<circle cx="924.4" cy="1429.5" r="6.4"/>
<circle cx="932.1" cy="1436.2" r="6.4"/>
<circle cx="874.5" cy="1440.9" r="6.4"/>
<circle cx="957.5" cy="1446.3" r="6.4"/>
<circle cx="815.5" cy="1449.0" r="6.4"/>
<circle cx="992.5" cy="1452.0" r="6.4"/>
<circle cx="977.8" cy="1454.0" r="6.4"/>
<circle cx="859.9" cy="1454.3" r="6.4"/>
<circle cx="857.1" cy="1456.6" r="6.4"/>
<circle cx="1014.7" cy="1456.6" r="6.4"/>
<circle cx="1051.8" cy="1455.3" r="6.4"/>
<circle cx="981.6" cy="1462.0" r="6.4"/>
<circle cx="813.8" cy="1471.2" r="6.4"/>
<circle cx="996.7" cy="1482.7" r="6.4"/>
<circle cx="1000.9" cy="1483.4" r="6.4"/>
</g>
<path class="t" d="M258.00 1022.08V1003.18M258.00 1659.86V1678.76M302.32 1022.08V1011.88M302.32 1659.86V1670.06M346.64 1022.08V1011.88M346.64 1659.86V1670.06M390.96 1022.08V1003.18M390.96 1659.86V1678.76M435.28 1022.08V1011.88M435.28 1659.86V1670.06M479.60 1022.08V1011.88M479.60 1659.86V1670.06M523.92 1022.08V1003.18M523.92 1659.86V1678.76M568.24 1022.08V1011.88M568.24 1659.86V1670.06M612.56 1022.08V1011.88M612.56 1659.86V1670.06M656.88 1022.08V1003.18M656.88 1659.86V1678.76M701.20 1022.08V1011.88M701.20 1659.86V1670.06M745.52 1022.08V1011.88M745.52 1659.86V1670.06M789.84 1022.08V1003.18M789.84 1659.86V1678.76M834.16 1022.08V1011.88M834.16 1659.86V1670.06M878.48 1022.08V1011.88M878.48 1659.86V1670.06M922.80 1022.08V1003.18M922.80 1659.86V1678.76M967.12 1022.08V1011.88M967.12 1659.86V1670.06M1011.44 1022.08V1011.88M1011.44 1659.86V1670.06M1055.76 1022.08V1003.18M1055.76 1659.86V1678.76M1100.08 1022.08V1011.88M1100.08 1659.86V1670.06M1144.40 1022.08V1011.88M1144.40 1659.86V1670.06M1188.72 1022.08V1003.18M1188.72 1659.86V1678.76M1233.04 1022.08V1011.88M1233.04 1659.86V1670.06M1277.36 1022.08V1011.88M1277.36 1659.86V1670.06M1321.68 1022.08V1003.18M1321.68 1659.86V1678.76M1366.00 1022.08V1011.88M1366.00 1659.86V1670.06M1410.32 1022.08V1011.88M1410.32 1659.86V1670.06M1454.64 1022.08V1003.18M1454.64 1659.86V1678.76M1498.96 1022.08V1011.88M1498.96 1659.86V1670.06M1543.28 1022.08V1011.88M1543.28 1659.86V1670.06M1587.60 1022.08V1003.18M1587.60 1659.86V1678.76M1631.92 1022.08V1011.88M1631.92 1659.86V1670.06M1676.24 1022.08V1011.88M1676.24 1659.86V1670.06M1720.56 1022.08V1003.18M1720.56 1659.86V1678.76M1764.88 1022.08V1011.88M1764.88 1659.86V1670.06M1809.20 1022.08V1011.88M1809.20 1659.86V1670.06M1853.52 1022.08V1003.18M1853.52 1659.86V1678.76M226.05 1113.57H207.15M1883.70 1113.57H1902.60M226.05 1231.67H207.15M1883.70 1231.67H1902.60M226.05 1349.77H207.15M1883.70 1349.77H1902.60M226.05 1467.87H207.15M1883.70 1467.87H1902.60M226.05 1585.97H207.15M1883.70 1585.97H1902.60"/>
<path class="fr" d="M223.03 1019.16H1886.80V1662.78H223.03ZM229.08 1025.01V1656.93H1880.40V1025.01Z"/>
<text class="b" transform="translate(258.00 1726.66) scale(0.952 1)" font-size="46.00" text-anchor="middle">0</text>
<text class="b" transform="translate(390.96 1726.66) scale(0.952 1)" font-size="46.00" text-anchor="middle">6</text>
<text class="b" transform="translate(523.92 1726.66) scale(0.952 1)" font-size="46.00" text-anchor="middle">12</text>
<text class="b" transform="translate(656.88 1726.66) scale(0.952 1)" font-size="46.00" text-anchor="middle">18</text>
<text class="b" transform="translate(789.84 1726.66) scale(0.952 1)" font-size="46.00" text-anchor="middle">24</text>
<text class="b" transform="translate(922.80 1726.66) scale(0.952 1)" font-size="46.00" text-anchor="middle">30</text>
<text class="b" transform="translate(1055.76 1726.66) scale(0.952 1)" font-size="46.00" text-anchor="middle">36</text>
<text class="b" transform="translate(1188.72 1726.66) scale(0.952 1)" font-size="46.00" text-anchor="middle">42</text>
<text class="b" transform="translate(1321.68 1726.66) scale(0.952 1)" font-size="46.00" text-anchor="middle">48</text>
<text class="b" transform="translate(1454.64 1726.66) scale(0.952 1)" font-size="46.00" text-anchor="middle">54</text>
<text class="b" transform="translate(1587.60 1726.66) scale(0.952 1)" font-size="46.00" text-anchor="middle">60</text>
<text class="b" transform="translate(1720.56 1726.66) scale(0.952 1)" font-size="46.00" text-anchor="middle">66</text>
<text class="b" transform="translate(1853.52 1726.66) scale(0.952 1)" font-size="46.00" text-anchor="middle">72</text>
<text class="b" transform="translate(190.80 1129.67) scale(0.952 1)" font-size="46.00" text-anchor="end">40</text>
<text class="b" transform="translate(190.80 1247.77) scale(0.952 1)" font-size="46.00" text-anchor="end">20</text>
<text class="b" transform="translate(190.80 1365.87) scale(0.952 1)" font-size="46.00" text-anchor="end">0</text>
<text class="b" transform="translate(190.80 1483.97) scale(0.952 1)" font-size="46.00" text-anchor="end"><tspan dy="3.6" font-size="44" style="letter-spacing:-1.2px">−</tspan><tspan dy="-3.6">20</tspan></text>
<text class="b" transform="translate(190.80 1602.07) scale(0.952 1)" font-size="46.00" text-anchor="end"><tspan dy="3.6" font-size="44" style="letter-spacing:-1.2px">−</tspan><tspan dy="-3.6">40</tspan></text>
<text transform="translate(89.95 1448.57) rotate(-90) scale(0.9694 1)" font-size="43.60">North (mm)</text>
</g>
<g id="panel3">
<g class="d">
<circle cx="1314.2" cy="1949.6" r="6.4"/>
<circle cx="1114.6" cy="1968.3" r="6.4"/>
<circle cx="1137.0" cy="1989.0" r="6.4"/>
<circle cx="1088.8" cy="1995.1" r="6.4"/>
<circle cx="1098.4" cy="1994.7" r="6.4"/>
<circle cx="1125.7" cy="1998.3" r="6.4"/>
<circle cx="1090.7" cy="2002.4" r="6.4"/>
<circle cx="1201.7" cy="2002.7" r="6.4"/>
<circle cx="1317.6" cy="2004.3" r="6.4"/>
<circle cx="1140.6" cy="2012.5" r="6.4"/>
<circle cx="1087.1" cy="2023.0" r="6.4"/>
<circle cx="1129.3" cy="2028.2" r="6.4"/>
<circle cx="1175.7" cy="2029.5" r="6.4"/>
<circle cx="1157.3" cy="2035.3" r="6.4"/>
<circle cx="1132.4" cy="2035.3" r="6.4"/>
<circle cx="1099.9" cy="2035.8" r="6.4"/>
<circle cx="1111.2" cy="2037.0" r="6.4"/>
<circle cx="1203.4" cy="2036.4" r="6.4"/>
<circle cx="1288.2" cy="2037.0" r="6.4"/>
<circle cx="1308.8" cy="2034.5" r="6.4"/>
<circle cx="1269.6" cy="2041.6" r="6.4"/>
<circle cx="1306.9" cy="2043.5" r="6.4"/>
<circle cx="1076.2" cy="2046.9" r="6.4"/>
<circle cx="1105.1" cy="2046.9" r="6.4"/>
<circle cx="1109.3" cy="2049.8" r="6.4"/>
<circle cx="1258.7" cy="2051.5" r="6.4"/>
<circle cx="1290.1" cy="2050.6" r="6.4"/>
<circle cx="1122.1" cy="2052.3" r="6.4"/>
<circle cx="1277.2" cy="2052.3" r="6.4"/>
<circle cx="1173.9" cy="2051.5" r="6.4"/>
<circle cx="1149.1" cy="2053.1" r="6.4"/>
<circle cx="1160.9" cy="2055.0" r="6.4"/>
<circle cx="1303.5" cy="2055.5" r="6.4"/>
<circle cx="1094.5" cy="2057.3" r="6.4"/>
<circle cx="1216.2" cy="2057.3" r="6.4"/>
<circle cx="1068.7" cy="2059.4" r="6.4"/>
<circle cx="1085.3" cy="2060.7" r="6.4"/>
<circle cx="1072.9" cy="2060.7" r="6.4"/>
<circle cx="1232.9" cy="2063.0" r="6.4"/>
<circle cx="1282.8" cy="2065.1" r="6.4"/>
<circle cx="1199.6" cy="2065.5" r="6.4"/>
<circle cx="1103.5" cy="2066.5" r="6.4"/>
<circle cx="1159.2" cy="2066.8" r="6.4"/>
<circle cx="1249.7" cy="2066.3" r="6.4"/>
<circle cx="1230.8" cy="2067.4" r="6.4"/>
<circle cx="1300.2" cy="2067.8" r="6.4"/>
<circle cx="1295.4" cy="2069.3" r="6.4"/>
<circle cx="1116.5" cy="2068.4" r="6.4"/>
<circle cx="1077.3" cy="2066.8" r="6.4"/>
<circle cx="1234.8" cy="2072.8" r="6.4"/>
<circle cx="1057.4" cy="2076.0" r="6.4"/>
<circle cx="1079.2" cy="2075.6" r="6.4"/>
<circle cx="1096.1" cy="2075.6" r="6.4"/>
<circle cx="1198.0" cy="2076.4" r="6.4"/>
<circle cx="1120.4" cy="2077.6" r="6.4"/>
<circle cx="1083.6" cy="2080.2" r="6.4"/>
<circle cx="1293.7" cy="2080.2" r="6.4"/>
<circle cx="1240.1" cy="2083.1" r="6.4"/>
<circle cx="1310.3" cy="2083.7" r="6.4"/>
<circle cx="1162.4" cy="2088.3" r="6.4"/>
<circle cx="1073.9" cy="2090.0" r="6.4"/>
<circle cx="1223.7" cy="2089.4" r="6.4"/>
<circle cx="1142.7" cy="2091.9" r="6.4"/>
<circle cx="1192.3" cy="2090.9" r="6.4"/>
<circle cx="1210.3" cy="2093.8" r="6.4"/>
<circle cx="1171.1" cy="2093.2" r="6.4"/>
<circle cx="1061.0" cy="2095.7" r="6.4"/>
<circle cx="1092.4" cy="2095.7" r="6.4"/>
<circle cx="1297.5" cy="2094.6" r="6.4"/>
<circle cx="1194.2" cy="2096.5" r="6.4"/>
<circle cx="1173.9" cy="2097.1" r="6.4"/>
<circle cx="1281.1" cy="2098.0" r="6.4"/>
<circle cx="1246.6" cy="2099.0" r="6.4"/>
<circle cx="1252.0" cy="2099.0" r="6.4"/>
<circle cx="1153.5" cy="2100.1" r="6.4"/>
<circle cx="1179.7" cy="2100.1" r="6.4"/>
<circle cx="1138.5" cy="2099.9" r="6.4"/>
<circle cx="1212.2" cy="2100.9" r="6.4"/>
<circle cx="1220.8" cy="2099.9" r="6.4"/>
<circle cx="1229.4" cy="2102.4" r="6.4"/>
<circle cx="1255.8" cy="2103.2" r="6.4"/>
<circle cx="1118.4" cy="2105.3" r="6.4"/>
<circle cx="1241.8" cy="2104.7" r="6.4"/>
<circle cx="1134.7" cy="2106.6" r="6.4"/>
<circle cx="1144.3" cy="2108.9" r="6.4"/>
<circle cx="1225.6" cy="2106.6" r="6.4"/>
<circle cx="1228.5" cy="2108.5" r="6.4"/>
<circle cx="1055.5" cy="2110.5" r="6.4"/>
<circle cx="1164.7" cy="2112.0" r="6.4"/>
<circle cx="1261.0" cy="2112.0" r="6.4"/>
<circle cx="1252.4" cy="2114.7" r="6.4"/>
<circle cx="1070.6" cy="2115.8" r="6.4"/>
<circle cx="1177.4" cy="2114.7" r="6.4"/>
<circle cx="1186.9" cy="2114.7" r="6.4"/>
<circle cx="1151.7" cy="2117.5" r="6.4"/>
<circle cx="1168.2" cy="2117.7" r="6.4"/>
<circle cx="1238.6" cy="2117.5" r="6.4"/>
<circle cx="1301.2" cy="2116.8" r="6.4"/>
<circle cx="1124.2" cy="2118.7" r="6.4"/>
<circle cx="1273.8" cy="2119.5" r="6.4"/>
<circle cx="1064.9" cy="2121.9" r="6.4"/>
<circle cx="1182.5" cy="2119.1" r="6.4"/>
<circle cx="1180.6" cy="2122.5" r="6.4"/>
<circle cx="1261.9" cy="2120.0" r="6.4"/>
<circle cx="1315.9" cy="2120.4" r="6.4"/>
<circle cx="1218.3" cy="2121.4" r="6.4"/>
<circle cx="1207.0" cy="2123.3" r="6.4"/>
<circle cx="1267.7" cy="2124.8" r="6.4"/>
<circle cx="1059.1" cy="2127.7" r="6.4"/>
<circle cx="1263.9" cy="2128.1" r="6.4"/>
<circle cx="1271.9" cy="2127.7" r="6.4"/>
<circle cx="1112.7" cy="2132.5" r="6.4"/>
<circle cx="1275.3" cy="2133.4" r="6.4"/>
<circle cx="1284.9" cy="2133.4" r="6.4"/>
<circle cx="1215.1" cy="2135.7" r="6.4"/>
<circle cx="1146.0" cy="2137.2" r="6.4"/>
<circle cx="1195.9" cy="2136.9" r="6.4"/>
<circle cx="1257.0" cy="2136.7" r="6.4"/>
<circle cx="1208.4" cy="2137.2" r="6.4"/>
<circle cx="1244.1" cy="2140.3" r="6.4"/>
<circle cx="1205.1" cy="2140.5" r="6.4"/>
<circle cx="1063.0" cy="2142.0" r="6.4"/>
<circle cx="1081.5" cy="2142.8" r="6.4"/>
<circle cx="1155.4" cy="2145.1" r="6.4"/>
<circle cx="1190.4" cy="2146.2" r="6.4"/>
<circle cx="1286.4" cy="2146.6" r="6.4"/>
<circle cx="1305.0" cy="2147.8" r="6.4"/>
<circle cx="1319.5" cy="2148.9" r="6.4"/>
<circle cx="1066.4" cy="2149.5" r="6.4"/>
<circle cx="1107.2" cy="2149.9" r="6.4"/>
<circle cx="1266.3" cy="2153.7" r="6.4"/>
<circle cx="1312.3" cy="2155.8" r="6.4"/>
<circle cx="1236.5" cy="2159.4" r="6.4"/>
<circle cx="1292.0" cy="2162.7" r="6.4"/>
<circle cx="1127.4" cy="2172.1" r="6.4"/>
<circle cx="1101.6" cy="2185.3" r="6.4"/>
<circle cx="1166.3" cy="2198.9" r="6.4"/>
<circle cx="1267.9" cy="2206.7" r="6.4"/>
<circle cx="1279.0" cy="2215.5" r="6.4"/>
<circle cx="1188.7" cy="2238.5" r="6.4"/>
<circle cx="1321.4" cy="2276.1" r="6.4"/>
<circle cx="1323.4" cy="2296.8" r="6.4"/>
<circle cx="1548.6" cy="1993.6" r="6.4"/>
<circle cx="1377.0" cy="2014.2" r="6.4"/>
<circle cx="1550.3" cy="2027.8" r="6.4"/>
<circle cx="1587.4" cy="2035.3" r="6.4"/>
<circle cx="1384.4" cy="2037.4" r="6.4"/>
<circle cx="1380.8" cy="2043.5" r="6.4"/>
<circle cx="1506.3" cy="2042.9" r="6.4"/>
<circle cx="1572.7" cy="2047.7" r="6.4"/>
<circle cx="1528.3" cy="2049.4" r="6.4"/>
<circle cx="1544.9" cy="2050.4" r="6.4"/>
<circle cx="1508.2" cy="2053.8" r="6.4"/>
<circle cx="1377.9" cy="2054.0" r="6.4"/>
<circle cx="1397.6" cy="2055.9" r="6.4"/>
<circle cx="1356.9" cy="2058.2" r="6.4"/>
<circle cx="1353.0" cy="2060.7" r="6.4"/>
<circle cx="1386.5" cy="2060.3" r="6.4"/>
<circle cx="1391.3" cy="2058.8" r="6.4"/>
<circle cx="1410.3" cy="2060.7" r="6.4"/>
<circle cx="1491.4" cy="2058.4" r="6.4"/>
<circle cx="1543.0" cy="2060.3" r="6.4"/>
<circle cx="1485.6" cy="2064.0" r="6.4"/>
<circle cx="1538.6" cy="2064.0" r="6.4"/>
<circle cx="1559.7" cy="2068.0" r="6.4"/>
<circle cx="1574.4" cy="2067.6" r="6.4"/>
<circle cx="1511.7" cy="2069.3" r="6.4"/>
<circle cx="1402.8" cy="2071.6" r="6.4"/>
<circle cx="1362.2" cy="2074.7" r="6.4"/>
<circle cx="1533.5" cy="2074.5" r="6.4"/>
<circle cx="1360.1" cy="2079.8" r="6.4"/>
<circle cx="1391.3" cy="2079.8" r="6.4"/>
<circle cx="1396.1" cy="2081.8" r="6.4"/>
<circle cx="1478.4" cy="2078.9" r="6.4"/>
<circle cx="1524.3" cy="2079.8" r="6.4"/>
<circle cx="1567.3" cy="2079.1" r="6.4"/>
<circle cx="1562.9" cy="2080.8" r="6.4"/>
<circle cx="1471.1" cy="2085.0" r="6.4"/>
<circle cx="1484.1" cy="2085.6" r="6.4"/>
<circle cx="1504.2" cy="2085.0" r="6.4"/>
<circle cx="1522.4" cy="2085.6" r="6.4"/>
<circle cx="1532.3" cy="2084.6" r="6.4"/>
<circle cx="1412.4" cy="2086.2" r="6.4"/>
<circle cx="1509.9" cy="2091.7" r="6.4"/>
<circle cx="1338.1" cy="2094.8" r="6.4"/>
<circle cx="1393.6" cy="2096.5" r="6.4"/>
<circle cx="1497.5" cy="2096.1" r="6.4"/>
<circle cx="1571.0" cy="2093.8" r="6.4"/>
<circle cx="1351.1" cy="2098.4" r="6.4"/>
<circle cx="1535.8" cy="2099.9" r="6.4"/>
<circle cx="1358.8" cy="2103.2" r="6.4"/>
<circle cx="1354.4" cy="2106.6" r="6.4"/>
<circle cx="1583.8" cy="2103.8" r="6.4"/>
<circle cx="1526.2" cy="2105.7" r="6.4"/>
<circle cx="1408.2" cy="2107.6" r="6.4"/>
<circle cx="1415.6" cy="2109.7" r="6.4"/>
<circle cx="1565.4" cy="2107.2" r="6.4"/>
<circle cx="1340.2" cy="2110.1" r="6.4"/>
<circle cx="1327.0" cy="2112.9" r="6.4"/>
<circle cx="1428.8" cy="2112.4" r="6.4"/>
<circle cx="1489.5" cy="2111.4" r="6.4"/>
<circle cx="1502.3" cy="2112.6" r="6.4"/>
<circle cx="1546.7" cy="2111.0" r="6.4"/>
<circle cx="1554.5" cy="2111.4" r="6.4"/>
<circle cx="1388.1" cy="2114.9" r="6.4"/>
<circle cx="1347.3" cy="2117.7" r="6.4"/>
<circle cx="1487.0" cy="2117.7" r="6.4"/>
<circle cx="1495.6" cy="2117.2" r="6.4"/>
<circle cx="1581.7" cy="2118.7" r="6.4"/>
<circle cx="1474.5" cy="2120.2" r="6.4"/>
<circle cx="1336.2" cy="2122.5" r="6.4"/>
<circle cx="1400.9" cy="2122.9" r="6.4"/>
<circle cx="1519.3" cy="2121.9" r="6.4"/>
<circle cx="1521.0" cy="2126.7" r="6.4"/>
<circle cx="1399.0" cy="2129.0" r="6.4"/>
<circle cx="1407.6" cy="2131.9" r="6.4"/>
<circle cx="1493.1" cy="2130.2" r="6.4"/>
<circle cx="1500.9" cy="2130.5" r="6.4"/>
<circle cx="1430.5" cy="2133.4" r="6.4"/>
<circle cx="1404.7" cy="2136.3" r="6.4"/>
<circle cx="1476.5" cy="2134.9" r="6.4"/>
<circle cx="1472.2" cy="2137.2" r="6.4"/>
<circle cx="1537.5" cy="2137.2" r="6.4"/>
<circle cx="1329.1" cy="2139.7" r="6.4"/>
<circle cx="1375.1" cy="2141.3" r="6.4"/>
<circle cx="1421.0" cy="2140.7" r="6.4"/>
<circle cx="1482.6" cy="2141.1" r="6.4"/>
<circle cx="1515.3" cy="2144.9" r="6.4"/>
<circle cx="1541.1" cy="2145.9" r="6.4"/>
<circle cx="1552.4" cy="2146.8" r="6.4"/>
<circle cx="1585.5" cy="2147.4" r="6.4"/>
<circle cx="1589.3" cy="2147.4" r="6.4"/>
<circle cx="1426.9" cy="2148.2" r="6.4"/>
<circle cx="1512.8" cy="2149.7" r="6.4"/>
<circle cx="1349.2" cy="2151.2" r="6.4"/>
<circle cx="1330.9" cy="2151.2" r="6.4"/>
<circle cx="1447.2" cy="2151.4" r="6.4"/>
<circle cx="1517.2" cy="2157.9" r="6.4"/>
<circle cx="1333.9" cy="2159.8" r="6.4"/>
<circle cx="1344.4" cy="2158.3" r="6.4"/>
<circle cx="1568.9" cy="2160.8" r="6.4"/>
<circle cx="1594.1" cy="2160.2" r="6.4"/>
<circle cx="1417.5" cy="2161.5" r="6.4"/>
<circle cx="1346.4" cy="2163.6" r="6.4"/>
<circle cx="1341.6" cy="2167.9" r="6.4"/>
<circle cx="1439.7" cy="2165.4" r="6.4"/>
<circle cx="1461.7" cy="2165.2" r="6.4"/>
<circle cx="1467.8" cy="2168.4" r="6.4"/>
<circle cx="1480.3" cy="2165.2" r="6.4"/>
<circle cx="1382.5" cy="2168.8" r="6.4"/>
<circle cx="1367.4" cy="2172.3" r="6.4"/>
<circle cx="1420.0" cy="2171.7" r="6.4"/>
<circle cx="1413.9" cy="2176.1" r="6.4"/>
<circle cx="1590.9" cy="2174.6" r="6.4"/>
<circle cx="1441.6" cy="2176.1" r="6.4"/>
<circle cx="1465.9" cy="2179.9" r="6.4"/>
<circle cx="1451.6" cy="2181.2" r="6.4"/>
<circle cx="1332.6" cy="2185.5" r="6.4"/>
<circle cx="1555.9" cy="2184.5" r="6.4"/>
<circle cx="1460.2" cy="2185.1" r="6.4"/>
<circle cx="1456.4" cy="2186.4" r="6.4"/>
<circle cx="1443.4" cy="2186.4" r="6.4"/>
<circle cx="1365.5" cy="2187.6" r="6.4"/>
<circle cx="1373.5" cy="2188.9" r="6.4"/>
<circle cx="1423.1" cy="2188.5" r="6.4"/>
<circle cx="1561.6" cy="2191.8" r="6.4"/>
<circle cx="1445.3" cy="2192.7" r="6.4"/>
<circle cx="1463.6" cy="2198.5" r="6.4"/>
<circle cx="1578.2" cy="2198.5" r="6.4"/>
<circle cx="1592.8" cy="2200.0" r="6.4"/>
<circle cx="1448.7" cy="2202.3" r="6.4"/>
<circle cx="1580.0" cy="2207.3" r="6.4"/>
<circle cx="1325.3" cy="2216.8" r="6.4"/>
<circle cx="1364.1" cy="2218.0" r="6.4"/>
<circle cx="1436.3" cy="2215.7" r="6.4"/>
<circle cx="1434.4" cy="2220.9" r="6.4"/>
<circle cx="1452.3" cy="2218.6" r="6.4"/>
<circle cx="1458.3" cy="2223.0" r="6.4"/>
<circle cx="1558.0" cy="2219.7" r="6.4"/>
<circle cx="1576.3" cy="2226.4" r="6.4"/>
<circle cx="1469.2" cy="2233.3" r="6.4"/>
<circle cx="1424.8" cy="2241.3" r="6.4"/>
<circle cx="1371.4" cy="2247.8" r="6.4"/>
<circle cx="1437.8" cy="2251.5" r="6.4"/>
<circle cx="1369.7" cy="2259.1" r="6.4"/>
<circle cx="1454.6" cy="2261.0" r="6.4"/>
<circle cx="1432.3" cy="2298.5" r="6.4"/>
<circle cx="1810.9" cy="2014.2" r="6.4"/>
<circle cx="1751.8" cy="2032.6" r="6.4"/>
<circle cx="1666.9" cy="2038.9" r="6.4"/>
<circle cx="1761.0" cy="2046.4" r="6.4"/>
<circle cx="1615.2" cy="2049.2" r="6.4"/>
<circle cx="1609.7" cy="2056.9" r="6.4"/>
<circle cx="1729.4" cy="2056.9" r="6.4"/>
<circle cx="1668.8" cy="2057.8" r="6.4"/>
<circle cx="1679.9" cy="2058.0" r="6.4"/>
<circle cx="1637.4" cy="2064.5" r="6.4"/>
<circle cx="1722.3" cy="2064.5" r="6.4"/>
<circle cx="1764.6" cy="2064.2" r="6.4"/>
<circle cx="1740.7" cy="2066.1" r="6.4"/>
<circle cx="1801.6" cy="2069.3" r="6.4"/>
<circle cx="1833.1" cy="2069.3" r="6.4"/>
<circle cx="1639.3" cy="2073.2" r="6.4"/>
<circle cx="1656.0" cy="2074.5" r="6.4"/>
<circle cx="1645.1" cy="2077.6" r="6.4"/>
<circle cx="1716.8" cy="2078.9" r="6.4"/>
<circle cx="1755.1" cy="2078.3" r="6.4"/>
<circle cx="1763.3" cy="2078.9" r="6.4"/>
<circle cx="1788.7" cy="2079.1" r="6.4"/>
<circle cx="1803.5" cy="2082.7" r="6.4"/>
<circle cx="1838.3" cy="2083.1" r="6.4"/>
<circle cx="1844.0" cy="2086.5" r="6.4"/>
<circle cx="1698.2" cy="2086.2" r="6.4"/>
<circle cx="1665.1" cy="2092.1" r="6.4"/>
<circle cx="1704.0" cy="2093.6" r="6.4"/>
<circle cx="1737.1" cy="2092.5" r="6.4"/>
<circle cx="1848.0" cy="2094.6" r="6.4"/>
<circle cx="1618.8" cy="2094.8" r="6.4"/>
<circle cx="1777.4" cy="2098.8" r="6.4"/>
<circle cx="1827.6" cy="2097.3" r="6.4"/>
<circle cx="1624.4" cy="2100.5" r="6.4"/>
<circle cx="1687.1" cy="2101.1" r="6.4"/>
<circle cx="1757.2" cy="2101.1" r="6.4"/>
<circle cx="1812.8" cy="2100.9" r="6.4"/>
<circle cx="1766.7" cy="2104.3" r="6.4"/>
<circle cx="1805.4" cy="2104.3" r="6.4"/>
<circle cx="1633.8" cy="2106.2" r="6.4"/>
<circle cx="1692.9" cy="2111.0" r="6.4"/>
<circle cx="1796.2" cy="2114.3" r="6.4"/>
<circle cx="1611.6" cy="2116.8" r="6.4"/>
<circle cx="1715.1" cy="2115.4" r="6.4"/>
<circle cx="1829.5" cy="2115.6" r="6.4"/>
<circle cx="1746.1" cy="2117.7" r="6.4"/>
<circle cx="1844.2" cy="2117.3" r="6.4"/>
<circle cx="1683.3" cy="2119.5" r="6.4"/>
<circle cx="1733.1" cy="2119.6" r="6.4"/>
<circle cx="1629.7" cy="2120.6" r="6.4"/>
<circle cx="1646.4" cy="2120.6" r="6.4"/>
<circle cx="1790.5" cy="2119.5" r="6.4"/>
<circle cx="1642.2" cy="2123.5" r="6.4"/>
<circle cx="1807.1" cy="2123.1" r="6.4"/>
<circle cx="1694.4" cy="2125.8" r="6.4"/>
<circle cx="1822.0" cy="2124.8" r="6.4"/>
<circle cx="1831.6" cy="2124.8" r="6.4"/>
<circle cx="1849.8" cy="2126.1" r="6.4"/>
<circle cx="1625.9" cy="2126.7" r="6.4"/>
<circle cx="1653.7" cy="2127.7" r="6.4"/>
<circle cx="1759.1" cy="2127.3" r="6.4"/>
<circle cx="1780.9" cy="2127.3" r="6.4"/>
<circle cx="1785.7" cy="2125.8" r="6.4"/>
<circle cx="1709.3" cy="2129.6" r="6.4"/>
<circle cx="1743.2" cy="2128.6" r="6.4"/>
<circle cx="1620.4" cy="2130.5" r="6.4"/>
<circle cx="1700.5" cy="2130.5" r="6.4"/>
<circle cx="1823.9" cy="2130.5" r="6.4"/>
<circle cx="1738.8" cy="2131.5" r="6.4"/>
<circle cx="1658.4" cy="2131.5" r="6.4"/>
<circle cx="1661.9" cy="2134.9" r="6.4"/>
<circle cx="1712.0" cy="2134.4" r="6.4"/>
<circle cx="1705.3" cy="2136.3" r="6.4"/>
<circle cx="1768.3" cy="2135.7" r="6.4"/>
<circle cx="1688.5" cy="2137.8" r="6.4"/>
<circle cx="1753.5" cy="2138.0" r="6.4"/>
<circle cx="1726.0" cy="2139.2" r="6.4"/>
<circle cx="1779.0" cy="2139.5" r="6.4"/>
<circle cx="1786.6" cy="2139.2" r="6.4"/>
<circle cx="1794.3" cy="2140.1" r="6.4"/>
<circle cx="1641.0" cy="2140.1" r="6.4"/>
<circle cx="1735.2" cy="2142.4" r="6.4"/>
<circle cx="1674.3" cy="2142.6" r="6.4"/>
<circle cx="1691.0" cy="2142.0" r="6.4"/>
<circle cx="1598.6" cy="2143.0" r="6.4"/>
<circle cx="1627.8" cy="2143.4" r="6.4"/>
<circle cx="1799.1" cy="2144.5" r="6.4"/>
<circle cx="1658.6" cy="2148.3" r="6.4"/>
<circle cx="1664.2" cy="2149.1" r="6.4"/>
<circle cx="1631.8" cy="2150.6" r="6.4"/>
<circle cx="1818.4" cy="2149.1" r="6.4"/>
<circle cx="1801.0" cy="2150.3" r="6.4"/>
<circle cx="1702.1" cy="2151.0" r="6.4"/>
<circle cx="1836.6" cy="2150.8" r="6.4"/>
<circle cx="1720.6" cy="2152.6" r="6.4"/>
<circle cx="1744.5" cy="2152.6" r="6.4"/>
<circle cx="1670.5" cy="2156.0" r="6.4"/>
<circle cx="1602.0" cy="2156.8" r="6.4"/>
<circle cx="1613.3" cy="2157.3" r="6.4"/>
<circle cx="1622.5" cy="2158.3" r="6.4"/>
<circle cx="1605.8" cy="2159.2" r="6.4"/>
<circle cx="1650.4" cy="2158.5" r="6.4"/>
<circle cx="1792.4" cy="2159.6" r="6.4"/>
<circle cx="1816.7" cy="2159.1" r="6.4"/>
<circle cx="1696.5" cy="2162.5" r="6.4"/>
<circle cx="1731.5" cy="2163.6" r="6.4"/>
<circle cx="1676.0" cy="2165.9" r="6.4"/>
<circle cx="1749.9" cy="2165.9" r="6.4"/>
<circle cx="1748.0" cy="2167.9" r="6.4"/>
<circle cx="1809.0" cy="2170.3" r="6.4"/>
<circle cx="1851.7" cy="2170.7" r="6.4"/>
<circle cx="1825.7" cy="2172.4" r="6.4"/>
<circle cx="1783.2" cy="2172.1" r="6.4"/>
<circle cx="1773.8" cy="2174.2" r="6.4"/>
<circle cx="1603.9" cy="2173.2" r="6.4"/>
<circle cx="1678.0" cy="2174.0" r="6.4"/>
<circle cx="1600.5" cy="2176.8" r="6.4"/>
<circle cx="1616.9" cy="2177.4" r="6.4"/>
<circle cx="1727.9" cy="2180.7" r="6.4"/>
<circle cx="1681.4" cy="2184.5" r="6.4"/>
<circle cx="1648.3" cy="2186.0" r="6.4"/>
<circle cx="1712.8" cy="2189.3" r="6.4"/>
<circle cx="1814.6" cy="2188.9" r="6.4"/>
<circle cx="1724.1" cy="2194.3" r="6.4"/>
<circle cx="1846.1" cy="2195.6" r="6.4"/>
<circle cx="1820.1" cy="2197.5" r="6.4"/>
<circle cx="1771.3" cy="2198.5" r="6.4"/>
<circle cx="1597.0" cy="2200.0" r="6.4"/>
<circle cx="1635.5" cy="2204.6" r="6.4"/>
<circle cx="1718.5" cy="2206.7" r="6.4"/>
<circle cx="1775.7" cy="2206.7" r="6.4"/>
<circle cx="1685.4" cy="2221.6" r="6.4"/>
<circle cx="1835.0" cy="2222.2" r="6.4"/>
<circle cx="1607.9" cy="2234.1" r="6.4"/>
<circle cx="1672.6" cy="2241.1" r="6.4"/>
<circle cx="514.7" cy="1978.4" r="6.4"/>
<circle cx="314.9" cy="1995.7" r="6.4"/>
<circle cx="506.5" cy="2023.0" r="6.4"/>
<circle cx="512.8" cy="2023.4" r="6.4"/>
<circle cx="497.9" cy="2029.5" r="6.4"/>
<circle cx="287.4" cy="2073.0" r="6.4"/>
<circle cx="316.9" cy="2073.2" r="6.4"/>
<circle cx="484.8" cy="2071.8" r="6.4"/>
<circle cx="298.3" cy="2088.5" r="6.4"/>
<circle cx="285.5" cy="2092.1" r="6.4"/>
<circle cx="401.8" cy="2097.8" r="6.4"/>
<circle cx="508.8" cy="2099.2" r="6.4"/>
<circle cx="268.8" cy="2101.3" r="6.4"/>
<circle cx="303.7" cy="2103.2" r="6.4"/>
<circle cx="308.4" cy="2105.1" r="6.4"/>
<circle cx="288.9" cy="2108.5" r="6.4"/>
<circle cx="274.4" cy="2110.8" r="6.4"/>
<circle cx="296.6" cy="2111.6" r="6.4"/>
<circle cx="503.6" cy="2116.2" r="6.4"/>
<circle cx="326.0" cy="2123.3" r="6.4"/>
<circle cx="275.9" cy="2122.9" r="6.4"/>
<circle cx="282.6" cy="2123.9" r="6.4"/>
<circle cx="278.2" cy="2126.7" r="6.4"/>
<circle cx="424.2" cy="2125.6" r="6.4"/>
<circle cx="477.6" cy="2129.8" r="6.4"/>
<circle cx="505.5" cy="2130.0" r="6.4"/>
<circle cx="464.4" cy="2133.8" r="6.4"/>
<circle cx="468.2" cy="2137.8" r="6.4"/>
<circle cx="472.0" cy="2137.2" r="6.4"/>
<circle cx="270.8" cy="2139.9" r="6.4"/>
<circle cx="294.7" cy="2145.3" r="6.4"/>
<circle cx="425.9" cy="2146.2" r="6.4"/>
<circle cx="265.2" cy="2148.3" r="6.4"/>
<circle cx="495.9" cy="2148.2" r="6.4"/>
<circle cx="494.0" cy="2152.6" r="6.4"/>
<circle cx="451.9" cy="2156.0" r="6.4"/>
<circle cx="266.9" cy="2159.6" r="6.4"/>
<circle cx="475.5" cy="2160.2" r="6.4"/>
<circle cx="488.7" cy="2162.1" r="6.4"/>
<circle cx="311.3" cy="2163.5" r="6.4"/>
<circle cx="313.2" cy="2166.9" r="6.4"/>
<circle cx="452.9" cy="2163.1" r="6.4"/>
<circle cx="457.7" cy="2165.0" r="6.4"/>
<circle cx="472.0" cy="2163.1" r="6.4"/>
<circle cx="479.7" cy="2165.6" r="6.4"/>
<circle cx="431.3" cy="2167.1" r="6.4"/>
<circle cx="501.5" cy="2167.5" r="6.4"/>
<circle cx="283.6" cy="2170.7" r="6.4"/>
<circle cx="394.3" cy="2172.1" r="6.4"/>
<circle cx="405.4" cy="2175.1" r="6.4"/>
<circle cx="257.9" cy="2179.0" r="6.4"/>
<circle cx="292.8" cy="2178.4" r="6.4"/>
<circle cx="300.8" cy="2179.3" r="6.4"/>
<circle cx="322.4" cy="2176.8" r="6.4"/>
<circle cx="483.3" cy="2179.7" r="6.4"/>
<circle cx="264.1" cy="2184.5" r="6.4"/>
<circle cx="260.6" cy="2186.4" r="6.4"/>
<circle cx="440.5" cy="2184.1" r="6.4"/>
<circle cx="472.0" cy="2184.5" r="6.4"/>
<circle cx="279.9" cy="2188.1" r="6.4"/>
<circle cx="330.1" cy="2187.6" r="6.4"/>
<circle cx="332.4" cy="2190.8" r="6.4"/>
<circle cx="459.0" cy="2188.9" r="6.4"/>
<circle cx="461.1" cy="2196.0" r="6.4"/>
<circle cx="499.6" cy="2194.3" r="6.4"/>
<circle cx="272.5" cy="2198.7" r="6.4"/>
<circle cx="306.0" cy="2200.4" r="6.4"/>
<circle cx="481.4" cy="2199.4" r="6.4"/>
<circle cx="510.9" cy="2202.9" r="6.4"/>
<circle cx="302.1" cy="2208.4" r="6.4"/>
<circle cx="438.9" cy="2206.7" r="6.4"/>
<circle cx="455.6" cy="2208.6" r="6.4"/>
<circle cx="398.2" cy="2209.4" r="6.4"/>
<circle cx="414.6" cy="2210.3" r="6.4"/>
<circle cx="492.1" cy="2208.0" r="6.4"/>
<circle cx="490.2" cy="2212.4" r="6.4"/>
<circle cx="410.8" cy="2220.5" r="6.4"/>
<circle cx="419.4" cy="2223.3" r="6.4"/>
<circle cx="446.2" cy="2224.9" r="6.4"/>
<circle cx="396.1" cy="2225.8" r="6.4"/>
<circle cx="403.7" cy="2225.8" r="6.4"/>
<circle cx="350.0" cy="2228.1" r="6.4"/>
<circle cx="355.3" cy="2229.1" r="6.4"/>
<circle cx="360.1" cy="2229.1" r="6.4"/>
<circle cx="291.0" cy="2229.1" r="6.4"/>
<circle cx="309.4" cy="2230.2" r="6.4"/>
<circle cx="422.1" cy="2232.0" r="6.4"/>
<circle cx="442.4" cy="2234.4" r="6.4"/>
<circle cx="462.5" cy="2233.9" r="6.4"/>
<circle cx="468.8" cy="2234.8" r="6.4"/>
<circle cx="333.3" cy="2240.2" r="6.4"/>
<circle cx="323.8" cy="2243.0" r="6.4"/>
<circle cx="328.5" cy="2243.4" r="6.4"/>
<circle cx="390.7" cy="2245.3" r="6.4"/>
<circle cx="444.3" cy="2244.4" r="6.4"/>
<circle cx="407.4" cy="2247.3" r="6.4"/>
<circle cx="339.1" cy="2248.8" r="6.4"/>
<circle cx="427.8" cy="2248.2" r="6.4"/>
<circle cx="448.1" cy="2251.7" r="6.4"/>
<circle cx="399.7" cy="2252.4" r="6.4"/>
<circle cx="320.5" cy="2257.2" r="6.4"/>
<circle cx="368.3" cy="2255.5" r="6.4"/>
<circle cx="409.3" cy="2259.7" r="6.4"/>
<circle cx="429.0" cy="2259.7" r="6.4"/>
<circle cx="486.8" cy="2260.8" r="6.4"/>
<circle cx="348.2" cy="2262.9" r="6.4"/>
<circle cx="336.8" cy="2264.5" r="6.4"/>
<circle cx="433.8" cy="2263.5" r="6.4"/>
<circle cx="437.0" cy="2265.4" r="6.4"/>
<circle cx="345.8" cy="2268.3" r="6.4"/>
<circle cx="450.0" cy="2270.6" r="6.4"/>
<circle cx="383.4" cy="2274.0" r="6.4"/>
<circle cx="344.4" cy="2276.5" r="6.4"/>
<circle cx="363.0" cy="2277.9" r="6.4"/>
<circle cx="380.2" cy="2281.1" r="6.4"/>
<circle cx="420.2" cy="2280.7" r="6.4"/>
<circle cx="361.1" cy="2285.1" r="6.4"/>
<circle cx="392.6" cy="2284.6" r="6.4"/>
<circle cx="374.1" cy="2288.4" r="6.4"/>
<circle cx="341.0" cy="2289.3" r="6.4"/>
<circle cx="353.8" cy="2293.2" r="6.4"/>
<circle cx="342.9" cy="2297.0" r="6.4"/>
<circle cx="413.1" cy="2299.9" r="6.4"/>
<circle cx="389.2" cy="2307.5" r="6.4"/>
<circle cx="416.5" cy="2312.7" r="6.4"/>
<circle cx="318.8" cy="2313.3" r="6.4"/>
<circle cx="355.7" cy="2318.0" r="6.4"/>
<circle cx="387.3" cy="2317.1" r="6.4"/>
<circle cx="385.0" cy="2320.0" r="6.4"/>
<circle cx="372.2" cy="2320.5" r="6.4"/>
<circle cx="352.1" cy="2329.9" r="6.4"/>
<circle cx="370.6" cy="2331.1" r="6.4"/>
<circle cx="335.4" cy="2338.4" r="6.4"/>
<circle cx="377.7" cy="2338.4" r="6.4"/>
<circle cx="366.8" cy="2365.6" r="6.4"/>
<circle cx="376.2" cy="2383.4" r="6.4"/>
<circle cx="433.4" cy="2396.4" r="6.4"/>
<circle cx="365.1" cy="2463.1" r="6.4"/>
<circle cx="607.0" cy="1917.6" r="6.4"/>
<circle cx="656.7" cy="1916.3" r="6.4"/>
<circle cx="643.7" cy="1946.9" r="6.4"/>
<circle cx="632.6" cy="1949.4" r="6.4"/>
<circle cx="686.4" cy="1952.4" r="6.4"/>
<circle cx="610.6" cy="1956.6" r="6.4"/>
<circle cx="662.2" cy="1956.8" r="6.4"/>
<circle cx="579.2" cy="1962.4" r="6.4"/>
<circle cx="547.6" cy="1965.2" r="6.4"/>
<circle cx="760.2" cy="1972.9" r="6.4"/>
<circle cx="784.3" cy="1973.7" r="6.4"/>
<circle cx="651.1" cy="1974.8" r="6.4"/>
<circle cx="684.4" cy="1974.8" r="6.4"/>
<circle cx="625.3" cy="1977.1" r="6.4"/>
<circle cx="640.2" cy="1981.9" r="6.4"/>
<circle cx="683.1" cy="1984.4" r="6.4"/>
<circle cx="584.6" cy="1985.1" r="6.4"/>
<circle cx="773.0" cy="1986.9" r="6.4"/>
<circle cx="719.5" cy="1988.2" r="6.4"/>
<circle cx="608.7" cy="1990.3" r="6.4"/>
<circle cx="634.5" cy="1989.9" r="6.4"/>
<circle cx="540.4" cy="1992.6" r="6.4"/>
<circle cx="647.5" cy="1993.2" r="6.4"/>
<circle cx="677.2" cy="1993.9" r="6.4"/>
<circle cx="782.4" cy="2000.1" r="6.4"/>
<circle cx="592.2" cy="2000.6" r="6.4"/>
<circle cx="664.2" cy="2001.4" r="6.4"/>
<circle cx="660.3" cy="2005.4" r="6.4"/>
<circle cx="546.1" cy="2004.7" r="6.4"/>
<circle cx="522.0" cy="2010.6" r="6.4"/>
<circle cx="627.0" cy="2011.2" r="6.4"/>
<circle cx="642.0" cy="2013.5" r="6.4"/>
<circle cx="531.2" cy="2015.0" r="6.4"/>
<circle cx="564.5" cy="2021.3" r="6.4"/>
<circle cx="667.6" cy="2023.4" r="6.4"/>
<circle cx="523.7" cy="2025.9" r="6.4"/>
<circle cx="712.0" cy="2026.3" r="6.4"/>
<circle cx="645.4" cy="2027.6" r="6.4"/>
<circle cx="654.6" cy="2027.0" r="6.4"/>
<circle cx="652.7" cy="2030.5" r="6.4"/>
<circle cx="560.7" cy="2028.6" r="6.4"/>
<circle cx="721.4" cy="2031.6" r="6.4"/>
<circle cx="573.7" cy="2034.3" r="6.4"/>
<circle cx="680.6" cy="2034.3" r="6.4"/>
<circle cx="536.7" cy="2039.7" r="6.4"/>
<circle cx="529.7" cy="2042.5" r="6.4"/>
<circle cx="595.7" cy="2040.8" r="6.4"/>
<circle cx="673.2" cy="2041.0" r="6.4"/>
<circle cx="700.9" cy="2040.2" r="6.4"/>
<circle cx="516.3" cy="2046.6" r="6.4"/>
<circle cx="586.5" cy="2047.3" r="6.4"/>
<circle cx="708.5" cy="2046.4" r="6.4"/>
<circle cx="752.6" cy="2047.3" r="6.4"/>
<circle cx="623.4" cy="2049.8" r="6.4"/>
<circle cx="526.8" cy="2046.4" r="6.4"/>
<circle cx="542.5" cy="2050.2" r="6.4"/>
<circle cx="534.4" cy="2053.1" r="6.4"/>
<circle cx="665.9" cy="2049.2" r="6.4"/>
<circle cx="670.3" cy="2049.8" r="6.4"/>
<circle cx="575.4" cy="2051.3" r="6.4"/>
<circle cx="758.3" cy="2051.1" r="6.4"/>
<circle cx="555.1" cy="2053.8" r="6.4"/>
<circle cx="631.1" cy="2053.1" r="6.4"/>
<circle cx="690.0" cy="2052.7" r="6.4"/>
<circle cx="717.7" cy="2054.2" r="6.4"/>
<circle cx="778.6" cy="2053.3" r="6.4"/>
<circle cx="525.6" cy="2061.3" r="6.4"/>
<circle cx="638.5" cy="2061.9" r="6.4"/>
<circle cx="557.0" cy="2065.1" r="6.4"/>
<circle cx="629.1" cy="2065.5" r="6.4"/>
<circle cx="603.3" cy="2066.8" r="6.4"/>
<circle cx="658.4" cy="2070.3" r="6.4"/>
<circle cx="730.5" cy="2069.9" r="6.4"/>
<circle cx="741.8" cy="2069.9" r="6.4"/>
<circle cx="756.2" cy="2071.2" r="6.4"/>
<circle cx="765.8" cy="2071.6" r="6.4"/>
<circle cx="518.2" cy="2071.8" r="6.4"/>
<circle cx="551.7" cy="2073.2" r="6.4"/>
<circle cx="566.2" cy="2073.5" r="6.4"/>
<circle cx="538.6" cy="2074.9" r="6.4"/>
<circle cx="621.5" cy="2073.7" r="6.4"/>
<circle cx="577.5" cy="2075.6" r="6.4"/>
<circle cx="601.4" cy="2076.4" r="6.4"/>
<circle cx="727.7" cy="2073.7" r="6.4"/>
<circle cx="739.2" cy="2077.0" r="6.4"/>
<circle cx="734.4" cy="2081.8" r="6.4"/>
<circle cx="776.5" cy="2076.0" r="6.4"/>
<circle cx="780.9" cy="2077.6" r="6.4"/>
<circle cx="691.7" cy="2077.9" r="6.4"/>
<circle cx="580.4" cy="2080.8" r="6.4"/>
<circle cx="589.9" cy="2082.7" r="6.4"/>
<circle cx="549.7" cy="2085.6" r="6.4"/>
<circle cx="588.0" cy="2085.2" r="6.4"/>
<circle cx="597.6" cy="2085.2" r="6.4"/>
<circle cx="704.7" cy="2086.0" r="6.4"/>
<circle cx="714.3" cy="2088.5" r="6.4"/>
<circle cx="679.1" cy="2090.0" r="6.4"/>
<circle cx="724.8" cy="2089.8" r="6.4"/>
<circle cx="744.9" cy="2090.4" r="6.4"/>
<circle cx="562.6" cy="2091.5" r="6.4"/>
<circle cx="605.2" cy="2091.5" r="6.4"/>
<circle cx="670.3" cy="2093.2" r="6.4"/>
<circle cx="699.0" cy="2093.2" r="6.4"/>
<circle cx="544.2" cy="2094.4" r="6.4"/>
<circle cx="618.0" cy="2095.0" r="6.4"/>
<circle cx="636.4" cy="2093.6" r="6.4"/>
<circle cx="748.7" cy="2095.5" r="6.4"/>
<circle cx="520.1" cy="2096.5" r="6.4"/>
<circle cx="723.3" cy="2098.0" r="6.4"/>
<circle cx="740.1" cy="2099.9" r="6.4"/>
<circle cx="736.3" cy="2102.8" r="6.4"/>
<circle cx="533.1" cy="2104.0" r="6.4"/>
<circle cx="599.5" cy="2104.7" r="6.4"/>
<circle cx="675.3" cy="2104.7" r="6.4"/>
<circle cx="771.5" cy="2104.7" r="6.4"/>
<circle cx="769.2" cy="2108.5" r="6.4"/>
<circle cx="569.8" cy="2108.5" r="6.4"/>
<circle cx="571.7" cy="2111.4" r="6.4"/>
<circle cx="558.9" cy="2111.8" r="6.4"/>
<circle cx="693.6" cy="2108.9" r="6.4"/>
<circle cx="706.6" cy="2108.2" r="6.4"/>
<circle cx="710.5" cy="2110.1" r="6.4"/>
<circle cx="582.8" cy="2115.4" r="6.4"/>
<circle cx="695.3" cy="2119.5" r="6.4"/>
<circle cx="568.1" cy="2122.3" r="6.4"/>
<circle cx="763.1" cy="2126.3" r="6.4"/>
<circle cx="619.6" cy="2132.8" r="6.4"/>
<circle cx="697.1" cy="2136.9" r="6.4"/>
<circle cx="553.2" cy="2138.2" r="6.4"/>
<circle cx="702.8" cy="2142.4" r="6.4"/>
<circle cx="754.5" cy="2152.2" r="6.4"/>
<circle cx="612.9" cy="2157.9" r="6.4"/>
<circle cx="617.1" cy="2157.9" r="6.4"/>
<circle cx="726.7" cy="2158.7" r="6.4"/>
<circle cx="593.9" cy="2169.8" r="6.4"/>
<circle cx="688.3" cy="2171.5" r="6.4"/>
<circle cx="747.2" cy="2180.1" r="6.4"/>
<circle cx="767.5" cy="2179.9" r="6.4"/>
<circle cx="774.7" cy="2186.4" r="6.4"/>
<circle cx="612.5" cy="2191.8" r="6.4"/>
<circle cx="750.8" cy="2214.7" r="6.4"/>
<circle cx="649.5" cy="1850.4" r="6.4"/>
<circle cx="843.5" cy="1914.0" r="6.4"/>
<circle cx="833.9" cy="1932.5" r="6.4"/>
<circle cx="1026.2" cy="1948.0" r="6.4"/>
<circle cx="1044.6" cy="1966.0" r="6.4"/>
<circle cx="1015.1" cy="1975.8" r="6.4"/>
<circle cx="829.3" cy="1983.8" r="6.4"/>
<circle cx="837.9" cy="1993.8" r="6.4"/>
<circle cx="1053.9" cy="1999.9" r="6.4"/>
<circle cx="845.2" cy="2004.1" r="6.4"/>
<circle cx="859.9" cy="2003.5" r="6.4"/>
<circle cx="1018.7" cy="2012.3" r="6.4"/>
<circle cx="1037.1" cy="2011.4" r="6.4"/>
<circle cx="826.4" cy="2013.8" r="6.4"/>
<circle cx="822.6" cy="2020.2" r="6.4"/>
<circle cx="832.8" cy="2018.2" r="6.4"/>
<circle cx="1024.5" cy="2019.0" r="6.4"/>
<circle cx="976.2" cy="2021.3" r="6.4"/>
<circle cx="1028.1" cy="2029.7" r="6.4"/>
<circle cx="967.1" cy="2039.3" r="6.4"/>
<circle cx="972.8" cy="2040.2" r="6.4"/>
<circle cx="953.9" cy="2042.2" r="6.4"/>
<circle cx="1031.5" cy="2042.5" r="6.4"/>
<circle cx="847.1" cy="2045.0" r="6.4"/>
<circle cx="849.4" cy="2047.7" r="6.4"/>
<circle cx="867.2" cy="2045.4" r="6.4"/>
<circle cx="821.1" cy="2048.1" r="6.4"/>
<circle cx="1035.4" cy="2050.2" r="6.4"/>
<circle cx="1040.7" cy="2054.6" r="6.4"/>
<circle cx="987.3" cy="2052.1" r="6.4"/>
<circle cx="787.8" cy="2061.7" r="6.4"/>
<circle cx="941.2" cy="2058.8" r="6.4"/>
<circle cx="931.7" cy="2062.1" r="6.4"/>
<circle cx="991.0" cy="2061.9" r="6.4"/>
<circle cx="817.1" cy="2063.6" r="6.4"/>
<circle cx="872.7" cy="2065.7" r="6.4"/>
<circle cx="861.5" cy="2067.8" r="6.4"/>
<circle cx="1029.6" cy="2066.8" r="6.4"/>
<circle cx="944.7" cy="2067.8" r="6.4"/>
<circle cx="955.6" cy="2068.0" r="6.4"/>
<circle cx="825.5" cy="2069.7" r="6.4"/>
<circle cx="819.0" cy="2071.2" r="6.4"/>
<circle cx="918.9" cy="2072.4" r="6.4"/>
<circle cx="841.4" cy="2076.6" r="6.4"/>
<circle cx="868.5" cy="2076.4" r="6.4"/>
<circle cx="878.7" cy="2077.2" r="6.4"/>
<circle cx="904.1" cy="2077.4" r="6.4"/>
<circle cx="974.3" cy="2076.4" r="6.4"/>
<circle cx="952.3" cy="2077.4" r="6.4"/>
<circle cx="1005.3" cy="2077.0" r="6.4"/>
<circle cx="1010.1" cy="2077.6" r="6.4"/>
<circle cx="876.2" cy="2080.8" r="6.4"/>
<circle cx="939.3" cy="2079.5" r="6.4"/>
<circle cx="850.9" cy="2082.7" r="6.4"/>
<circle cx="929.8" cy="2083.3" r="6.4"/>
<circle cx="1016.8" cy="2083.1" r="6.4"/>
<circle cx="1048.2" cy="2084.1" r="6.4"/>
<circle cx="806.2" cy="2087.9" r="6.4"/>
<circle cx="854.4" cy="2088.5" r="6.4"/>
<circle cx="835.8" cy="2089.0" r="6.4"/>
<circle cx="896.7" cy="2086.7" r="6.4"/>
<circle cx="961.3" cy="2086.5" r="6.4"/>
<circle cx="966.1" cy="2089.4" r="6.4"/>
<circle cx="942.2" cy="2089.4" r="6.4"/>
<circle cx="1002.1" cy="2091.3" r="6.4"/>
<circle cx="874.8" cy="2092.3" r="6.4"/>
<circle cx="947.9" cy="2094.2" r="6.4"/>
<circle cx="959.4" cy="2094.8" r="6.4"/>
<circle cx="981.6" cy="2094.4" r="6.4"/>
<circle cx="900.5" cy="2095.7" r="6.4"/>
<circle cx="863.2" cy="2096.5" r="6.4"/>
<circle cx="871.4" cy="2099.9" r="6.4"/>
<circle cx="1020.6" cy="2099.9" r="6.4"/>
<circle cx="804.4" cy="2101.5" r="6.4"/>
<circle cx="839.6" cy="2102.2" r="6.4"/>
<circle cx="1011.1" cy="2102.4" r="6.4"/>
<circle cx="891.3" cy="2104.3" r="6.4"/>
<circle cx="909.7" cy="2104.3" r="6.4"/>
<circle cx="865.3" cy="2107.0" r="6.4"/>
<circle cx="935.7" cy="2107.0" r="6.4"/>
<circle cx="920.8" cy="2107.6" r="6.4"/>
<circle cx="926.9" cy="2110.5" r="6.4"/>
<circle cx="979.9" cy="2109.9" r="6.4"/>
<circle cx="880.2" cy="2112.0" r="6.4"/>
<circle cx="790.1" cy="2112.0" r="6.4"/>
<circle cx="785.9" cy="2114.7" r="6.4"/>
<circle cx="811.7" cy="2111.8" r="6.4"/>
<circle cx="807.3" cy="2114.7" r="6.4"/>
<circle cx="937.6" cy="2113.7" r="6.4"/>
<circle cx="986.2" cy="2113.3" r="6.4"/>
<circle cx="1022.4" cy="2113.1" r="6.4"/>
<circle cx="1039.0" cy="2112.4" r="6.4"/>
<circle cx="923.1" cy="2114.3" r="6.4"/>
<circle cx="928.8" cy="2117.2" r="6.4"/>
<circle cx="992.9" cy="2118.1" r="6.4"/>
<circle cx="911.6" cy="2120.0" r="6.4"/>
<circle cx="978.0" cy="2120.0" r="6.4"/>
<circle cx="1001.1" cy="2121.0" r="6.4"/>
<circle cx="810.2" cy="2121.6" r="6.4"/>
<circle cx="802.1" cy="2124.8" r="6.4"/>
<circle cx="917.3" cy="2123.9" r="6.4"/>
<circle cx="858.0" cy="2125.2" r="6.4"/>
<circle cx="1042.6" cy="2125.6" r="6.4"/>
<circle cx="1004.4" cy="2125.8" r="6.4"/>
<circle cx="997.7" cy="2126.7" r="6.4"/>
<circle cx="856.1" cy="2128.6" r="6.4"/>
<circle cx="969.0" cy="2131.1" r="6.4"/>
<circle cx="994.6" cy="2132.5" r="6.4"/>
<circle cx="898.8" cy="2135.3" r="6.4"/>
<circle cx="881.5" cy="2136.9" r="6.4"/>
<circle cx="888.6" cy="2138.2" r="6.4"/>
<circle cx="957.7" cy="2136.1" r="6.4"/>
<circle cx="1007.4" cy="2136.9" r="6.4"/>
<circle cx="1050.1" cy="2137.4" r="6.4"/>
<circle cx="1033.5" cy="2139.3" r="6.4"/>
<circle cx="970.7" cy="2142.8" r="6.4"/>
<circle cx="913.3" cy="2143.8" r="6.4"/>
<circle cx="894.4" cy="2148.3" r="6.4"/>
<circle cx="902.4" cy="2152.6" r="6.4"/>
<circle cx="800.6" cy="2151.2" r="6.4"/>
<circle cx="946.0" cy="2152.9" r="6.4"/>
<circle cx="950.8" cy="2151.8" r="6.4"/>
<circle cx="813.8" cy="2156.0" r="6.4"/>
<circle cx="963.2" cy="2157.3" r="6.4"/>
<circle cx="1013.0" cy="2158.5" r="6.4"/>
<circle cx="815.7" cy="2164.0" r="6.4"/>
<circle cx="933.6" cy="2164.2" r="6.4"/>
<circle cx="797.4" cy="2165.0" r="6.4"/>
<circle cx="905.8" cy="2168.4" r="6.4"/>
<circle cx="799.3" cy="2170.7" r="6.4"/>
<circle cx="885.8" cy="2172.1" r="6.4"/>
<circle cx="852.5" cy="2175.1" r="6.4"/>
<circle cx="883.5" cy="2176.5" r="6.4"/>
<circle cx="1052.0" cy="2174.0" r="6.4"/>
<circle cx="794.9" cy="2179.3" r="6.4"/>
<circle cx="793.0" cy="2181.6" r="6.4"/>
<circle cx="915.4" cy="2181.4" r="6.4"/>
<circle cx="893.2" cy="2182.2" r="6.4"/>
<circle cx="791.6" cy="2192.2" r="6.4"/>
<circle cx="907.8" cy="2197.7" r="6.4"/>
<circle cx="922.7" cy="2207.3" r="6.4"/>
<circle cx="1046.3" cy="2284.8" r="6.4"/>
</g>
<path class="t" d="M258.00 1838.10V1819.20M258.00 2475.92V2494.82M302.32 1838.10V1827.90M302.32 2475.92V2486.12M346.64 1838.10V1827.90M346.64 2475.92V2486.12M390.96 1838.10V1819.20M390.96 2475.92V2494.82M435.28 1838.10V1827.90M435.28 2475.92V2486.12M479.60 1838.10V1827.90M479.60 2475.92V2486.12M523.92 1838.10V1819.20M523.92 2475.92V2494.82M568.24 1838.10V1827.90M568.24 2475.92V2486.12M612.56 1838.10V1827.90M612.56 2475.92V2486.12M656.88 1838.10V1819.20M656.88 2475.92V2494.82M701.20 1838.10V1827.90M701.20 2475.92V2486.12M745.52 1838.10V1827.90M745.52 2475.92V2486.12M789.84 1838.10V1819.20M789.84 2475.92V2494.82M834.16 1838.10V1827.90M834.16 2475.92V2486.12M878.48 1838.10V1827.90M878.48 2475.92V2486.12M922.80 1838.10V1819.20M922.80 2475.92V2494.82M967.12 1838.10V1827.90M967.12 2475.92V2486.12M1011.44 1838.10V1827.90M1011.44 2475.92V2486.12M1055.76 1838.10V1819.20M1055.76 2475.92V2494.82M1100.08 1838.10V1827.90M1100.08 2475.92V2486.12M1144.40 1838.10V1827.90M1144.40 2475.92V2486.12M1188.72 1838.10V1819.20M1188.72 2475.92V2494.82M1233.04 1838.10V1827.90M1233.04 2475.92V2486.12M1277.36 1838.10V1827.90M1277.36 2475.92V2486.12M1321.68 1838.10V1819.20M1321.68 2475.92V2494.82M1366.00 1838.10V1827.90M1366.00 2475.92V2486.12M1410.32 1838.10V1827.90M1410.32 2475.92V2486.12M1454.64 1838.10V1819.20M1454.64 2475.92V2494.82M1498.96 1838.10V1827.90M1498.96 2475.92V2486.12M1543.28 1838.10V1827.90M1543.28 2475.92V2486.12M1587.60 1838.10V1819.20M1587.60 2475.92V2494.82M1631.92 1838.10V1827.90M1631.92 2475.92V2486.12M1676.24 1838.10V1827.90M1676.24 2475.92V2486.12M1720.56 1838.10V1819.20M1720.56 2475.92V2494.82M1764.88 1838.10V1827.90M1764.88 2475.92V2486.12M1809.20 1838.10V1827.90M1809.20 2475.92V2486.12M1853.52 1838.10V1819.20M1853.52 2475.92V2494.82M226.05 1935.00H207.15M1883.70 1935.00H1902.60M226.05 2057.15H207.15M1883.70 2057.15H1902.60M226.05 2179.30H207.15M1883.70 2179.30H1902.60M226.05 2301.40H207.15M1883.70 2301.40H1902.60M226.05 2423.57H207.15M1883.70 2423.57H1902.60"/>
<path class="fr" d="M223.03 1835.17H1886.80V2478.85H223.03ZM229.08 1841.02V2472.99H1880.40V1841.02Z"/>
<text class="b" transform="translate(258.00 2542.72) scale(0.952 1)" font-size="46.00" text-anchor="middle">0</text>
<text class="b" transform="translate(390.96 2542.72) scale(0.952 1)" font-size="46.00" text-anchor="middle">6</text>
<text class="b" transform="translate(523.92 2542.72) scale(0.952 1)" font-size="46.00" text-anchor="middle">12</text>
<text class="b" transform="translate(656.88 2542.72) scale(0.952 1)" font-size="46.00" text-anchor="middle">18</text>
<text class="b" transform="translate(789.84 2542.72) scale(0.952 1)" font-size="46.00" text-anchor="middle">24</text>
<text class="b" transform="translate(922.80 2542.72) scale(0.952 1)" font-size="46.00" text-anchor="middle">30</text>
<text class="b" transform="translate(1055.76 2542.72) scale(0.952 1)" font-size="46.00" text-anchor="middle">36</text>
<text class="b" transform="translate(1188.72 2542.72) scale(0.952 1)" font-size="46.00" text-anchor="middle">42</text>
<text class="b" transform="translate(1321.68 2542.72) scale(0.952 1)" font-size="46.00" text-anchor="middle">48</text>
<text class="b" transform="translate(1454.64 2542.72) scale(0.952 1)" font-size="46.00" text-anchor="middle">54</text>
<text class="b" transform="translate(1587.60 2542.72) scale(0.952 1)" font-size="46.00" text-anchor="middle">60</text>
<text class="b" transform="translate(1720.56 2542.72) scale(0.952 1)" font-size="46.00" text-anchor="middle">66</text>
<text class="b" transform="translate(1853.52 2542.72) scale(0.952 1)" font-size="46.00" text-anchor="middle">72</text>
<text class="b" transform="translate(190.80 1951.10) scale(0.952 1)" font-size="46.00" text-anchor="end">80</text>
<text class="b" transform="translate(190.80 2073.25) scale(0.952 1)" font-size="46.00" text-anchor="end">40</text>
<text class="b" transform="translate(190.80 2195.40) scale(0.952 1)" font-size="46.00" text-anchor="end">0</text>
<text class="b" transform="translate(190.80 2317.50) scale(0.952 1)" font-size="46.00" text-anchor="end"><tspan dy="3.6" font-size="44" style="letter-spacing:-1.2px">−</tspan><tspan dy="-3.6">40</tspan></text>
<text class="b" transform="translate(190.80 2439.67) scale(0.952 1)" font-size="46.00" text-anchor="end"><tspan dy="3.6" font-size="44" style="letter-spacing:-1.2px">−</tspan><tspan dy="-3.6">80</tspan></text>
<text transform="translate(89.95 2239.79) rotate(-90) scale(0.9750 1)" font-size="43.60">Up (mm)</text>
</g>
<text transform="translate(627.12 2601.20) scale(0.9766 1)" font-size="43.60">Time (hours since beginning of first day UTC)</text>
<path class="fr" d="M223.03 2702.47H1886.80V2860.73H223.03ZM229.08 2708.33V2854.88H1880.40V2708.33Z"/>
<text class="b s" transform="translate(704.10 2743.90) scale(0.9676 1)" font-size="44.00">Processed Using JPL Rapid Orbits</text>
<text class="b s" transform="translate(690.38 2783.90) scale(0.9722 1)" font-size="44.00">by the Nevada Geodetic Laboratory.</text>
<text class="b s" transform="translate(816.88 2824.70) scale(0.9720 1)" font-size="44.00">Plotted on 2026-Jan-11.</text>
</svg></body></html>
